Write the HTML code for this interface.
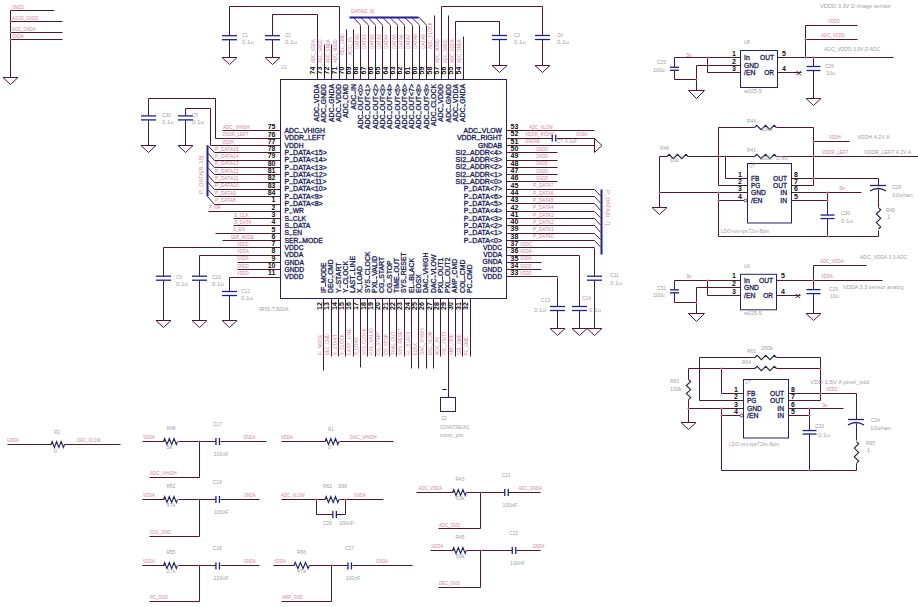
<!DOCTYPE html>
<html><head><meta charset="utf-8"><style>
html,body{margin:0;padding:0;background:#fff;}
svg{display:block;}
text{font-family:"Liberation Sans",sans-serif;}
</style></head><body>
<svg width="918" height="607" viewBox="0 0 918 607">
<rect width="918" height="607" fill="#ffffff"/>
<line x1="10.5" y1="10.5" x2="10.5" y2="77.5" stroke="#4c1a30" stroke-width="1"/>
<line x1="10.5" y1="10.5" x2="54.5" y2="10.5" stroke="#4c1a30" stroke-width="1"/>
<text x="12" y="9" font-size="5.5" fill="#d0869a" text-anchor="start" font-weight="normal" textLength="11.8" lengthAdjust="spacingAndGlyphs">GNDD</text>
<line x1="10.5" y1="21.5" x2="62.5" y2="21.5" stroke="#4c1a30" stroke-width="1"/>
<text x="12" y="20" font-size="5.5" fill="#d0869a" text-anchor="start" font-weight="normal" textLength="26.6" lengthAdjust="spacingAndGlyphs">AGND_GNDD</text>
<line x1="10.5" y1="32.5" x2="62.5" y2="32.5" stroke="#4c1a30" stroke-width="1"/>
<text x="12" y="31" font-size="5.5" fill="#d0869a" text-anchor="start" font-weight="normal" textLength="23.6" lengthAdjust="spacingAndGlyphs">AGC_GNDA</text>
<line x1="10.5" y1="39.5" x2="62.5" y2="39.5" stroke="#4c1a30" stroke-width="1"/>
<text x="12" y="37.5" font-size="5.5" fill="#d0869a" text-anchor="start" font-weight="normal" textLength="11.8" lengthAdjust="spacingAndGlyphs">GNDA</text>
<circle cx="10.5" cy="21.5" r="1.0" fill="#c06090"/>
<circle cx="10.5" cy="32.5" r="1.0" fill="#c06090"/>
<circle cx="10.5" cy="39.5" r="1.0" fill="#c06090"/>
<polygon points="3.0,77.5 18.0,77.5 10.5,84.5" fill="none" stroke="#4c1a30" stroke-width="1"/>
<rect x="280.5" y="79.5" width="226" height="219" fill="none" stroke="#232360" stroke-width="1"/>
<line x1="222.5" y1="130.5" x2="280.5" y2="130.5" stroke="#4c1a30" stroke-width="1"/>
<text x="275.5" y="129.20000000000002" font-size="7" fill="#101010" text-anchor="end" font-weight="bold">75</text>
<text x="284.5" y="133.0" font-size="6.8" fill="#1c1c58" text-anchor="start" font-weight="normal" textLength="40.4" lengthAdjust="spacingAndGlyphs" stroke="#1c1c58" stroke-width="0.3">ADC<tspan fill="transparent" stroke="none">_</tspan>VHIGH</text>
<g><line x1="299.34" y1="132.6" x2="302.79" y2="132.6" stroke="#1c1c58" stroke-width="0.9"/></g>
<text x="223" y="128.9" font-size="5.5" fill="#d0869a" text-anchor="start" font-weight="normal" textLength="26.6" lengthAdjust="spacingAndGlyphs">ADC_VHIGH</text>
<line x1="215.5" y1="138.5" x2="280.5" y2="138.5" stroke="#4c1a30" stroke-width="1"/>
<text x="275.5" y="136.51000000000002" font-size="7" fill="#101010" text-anchor="end" font-weight="bold">76</text>
<text x="284.5" y="140.31" font-size="6.8" fill="#1c1c58" text-anchor="start" font-weight="normal" textLength="40.4" lengthAdjust="spacingAndGlyphs" stroke="#1c1c58" stroke-width="0.3">VDDR<tspan fill="transparent" stroke="none">_</tspan>LEFT</text>
<g><line x1="304.34" y1="139.91" x2="307.80" y2="139.91" stroke="#1c1c58" stroke-width="0.9"/></g>
<text x="222" y="136.21" font-size="5.5" fill="#d0869a" text-anchor="start" font-weight="normal" textLength="26.6" lengthAdjust="spacingAndGlyphs">VDDR_LEFT</text>
<line x1="210.5" y1="145.5" x2="280.5" y2="145.5" stroke="#4c1a30" stroke-width="1"/>
<text x="275.5" y="143.82000000000002" font-size="7" fill="#101010" text-anchor="end" font-weight="bold">77</text>
<text x="284.5" y="147.62" font-size="6.8" fill="#1c1c58" text-anchor="start" font-weight="normal" textLength="19.0" lengthAdjust="spacingAndGlyphs" stroke="#1c1c58" stroke-width="0.3">VDDH</text>
<text x="222" y="143.52" font-size="5.5" fill="#d0869a" text-anchor="start" font-weight="normal" textLength="11.8" lengthAdjust="spacingAndGlyphs">VDDH</text>
<line x1="214.5" y1="152.5" x2="280.5" y2="152.5" stroke="#4c1a30" stroke-width="1"/>
<text x="275.5" y="151.13000000000002" font-size="7" fill="#101010" text-anchor="end" font-weight="bold">78</text>
<text x="284.5" y="154.93" font-size="6.8" fill="#1c1c58" text-anchor="start" font-weight="normal" textLength="42.3" lengthAdjust="spacingAndGlyphs" stroke="#1c1c58" stroke-width="0.3">P<tspan fill="transparent" stroke="none">_</tspan>DATA&lt;15&gt;</text>
<g><line x1="289.38" y1="154.53" x2="292.88" y2="154.53" stroke="#1c1c58" stroke-width="0.9"/></g>
<text x="215" y="150.83" font-size="5.5" fill="#d0869a" text-anchor="start" font-weight="normal" textLength="23.6" lengthAdjust="spacingAndGlyphs">P_DATA15</text>
<line x1="214.5" y1="160.5" x2="280.5" y2="160.5" stroke="#4c1a30" stroke-width="1"/>
<text x="275.5" y="158.44000000000003" font-size="7" fill="#101010" text-anchor="end" font-weight="bold">79</text>
<text x="284.5" y="162.24" font-size="6.8" fill="#1c1c58" text-anchor="start" font-weight="normal" textLength="42.3" lengthAdjust="spacingAndGlyphs" stroke="#1c1c58" stroke-width="0.3">P<tspan fill="transparent" stroke="none">_</tspan>DATA&lt;14&gt;</text>
<g><line x1="289.38" y1="161.84" x2="292.88" y2="161.84" stroke="#1c1c58" stroke-width="0.9"/></g>
<text x="215" y="158.14000000000001" font-size="5.5" fill="#d0869a" text-anchor="start" font-weight="normal" textLength="23.6" lengthAdjust="spacingAndGlyphs">P_DATA14</text>
<line x1="214.5" y1="167.5" x2="280.5" y2="167.5" stroke="#4c1a30" stroke-width="1"/>
<text x="275.5" y="165.75" font-size="7" fill="#101010" text-anchor="end" font-weight="bold">80</text>
<text x="284.5" y="169.54999999999998" font-size="6.8" fill="#1c1c58" text-anchor="start" font-weight="normal" textLength="42.3" lengthAdjust="spacingAndGlyphs" stroke="#1c1c58" stroke-width="0.3">P<tspan fill="transparent" stroke="none">_</tspan>DATA&lt;13&gt;</text>
<g><line x1="289.38" y1="169.14999999999998" x2="292.88" y2="169.14999999999998" stroke="#1c1c58" stroke-width="0.9"/></g>
<text x="215" y="165.45" font-size="5.5" fill="#d0869a" text-anchor="start" font-weight="normal" textLength="23.6" lengthAdjust="spacingAndGlyphs">P_DATA13</text>
<line x1="214.5" y1="174.5" x2="280.5" y2="174.5" stroke="#4c1a30" stroke-width="1"/>
<text x="275.5" y="173.06" font-size="7" fill="#101010" text-anchor="end" font-weight="bold">81</text>
<text x="284.5" y="176.85999999999999" font-size="6.8" fill="#1c1c58" text-anchor="start" font-weight="normal" textLength="42.3" lengthAdjust="spacingAndGlyphs" stroke="#1c1c58" stroke-width="0.3">P<tspan fill="transparent" stroke="none">_</tspan>DATA&lt;12&gt;</text>
<g><line x1="289.38" y1="176.45999999999998" x2="292.88" y2="176.45999999999998" stroke="#1c1c58" stroke-width="0.9"/></g>
<text x="215" y="172.76" font-size="5.5" fill="#d0869a" text-anchor="start" font-weight="normal" textLength="23.6" lengthAdjust="spacingAndGlyphs">P_DATA12</text>
<line x1="214.5" y1="182.5" x2="280.5" y2="182.5" stroke="#4c1a30" stroke-width="1"/>
<text x="275.5" y="180.37" font-size="7" fill="#101010" text-anchor="end" font-weight="bold">82</text>
<text x="284.5" y="184.17" font-size="6.8" fill="#1c1c58" text-anchor="start" font-weight="normal" textLength="41.8" lengthAdjust="spacingAndGlyphs" stroke="#1c1c58" stroke-width="0.3">P<tspan fill="transparent" stroke="none">_</tspan>DATA&lt;11&gt;</text>
<g><line x1="289.39" y1="183.76999999999998" x2="292.90" y2="183.76999999999998" stroke="#1c1c58" stroke-width="0.9"/></g>
<text x="215" y="180.07" font-size="5.5" fill="#d0869a" text-anchor="start" font-weight="normal" textLength="23.6" lengthAdjust="spacingAndGlyphs">P_DATA11</text>
<line x1="214.5" y1="189.5" x2="280.5" y2="189.5" stroke="#4c1a30" stroke-width="1"/>
<text x="275.5" y="187.68" font-size="7" fill="#101010" text-anchor="end" font-weight="bold">83</text>
<text x="284.5" y="191.48" font-size="6.8" fill="#1c1c58" text-anchor="start" font-weight="normal" textLength="42.3" lengthAdjust="spacingAndGlyphs" stroke="#1c1c58" stroke-width="0.3">P<tspan fill="transparent" stroke="none">_</tspan>DATA&lt;10&gt;</text>
<g><line x1="289.38" y1="191.07999999999998" x2="292.88" y2="191.07999999999998" stroke="#1c1c58" stroke-width="0.9"/></g>
<text x="215" y="187.38" font-size="5.5" fill="#d0869a" text-anchor="start" font-weight="normal" textLength="23.6" lengthAdjust="spacingAndGlyphs">P_DATA10</text>
<line x1="214.5" y1="196.5" x2="280.5" y2="196.5" stroke="#4c1a30" stroke-width="1"/>
<text x="275.5" y="194.99" font-size="7" fill="#101010" text-anchor="end" font-weight="bold">84</text>
<text x="284.5" y="198.79" font-size="6.8" fill="#1c1c58" text-anchor="start" font-weight="normal" textLength="38.2" lengthAdjust="spacingAndGlyphs" stroke="#1c1c58" stroke-width="0.3">P<tspan fill="transparent" stroke="none">_</tspan>DATA&lt;9&gt;</text>
<g><line x1="289.37" y1="198.39" x2="292.86" y2="198.39" stroke="#1c1c58" stroke-width="0.9"/></g>
<text x="215" y="194.69" font-size="5.5" fill="#d0869a" text-anchor="start" font-weight="normal" textLength="20.7" lengthAdjust="spacingAndGlyphs">P_DATA9</text>
<line x1="214.5" y1="204.5" x2="280.5" y2="204.5" stroke="#4c1a30" stroke-width="1"/>
<text x="275.5" y="202.3" font-size="7" fill="#101010" text-anchor="end" font-weight="bold">1</text>
<text x="284.5" y="206.1" font-size="6.8" fill="#1c1c58" text-anchor="start" font-weight="normal" textLength="38.2" lengthAdjust="spacingAndGlyphs" stroke="#1c1c58" stroke-width="0.3">P<tspan fill="transparent" stroke="none">_</tspan>DATA&lt;8&gt;</text>
<g><line x1="289.37" y1="205.7" x2="292.86" y2="205.7" stroke="#1c1c58" stroke-width="0.9"/></g>
<text x="215" y="202.0" font-size="5.5" fill="#d0869a" text-anchor="start" font-weight="normal" textLength="20.7" lengthAdjust="spacingAndGlyphs">P_DATA8</text>
<line x1="208.5" y1="211.5" x2="280.5" y2="211.5" stroke="#4c1a30" stroke-width="1"/>
<text x="275.5" y="209.61" font-size="7" fill="#101010" text-anchor="end" font-weight="bold">2</text>
<text x="284.5" y="213.41" font-size="6.8" fill="#1c1c58" text-anchor="start" font-weight="normal" textLength="19.4" lengthAdjust="spacingAndGlyphs" stroke="#1c1c58" stroke-width="0.3">P<tspan fill="transparent" stroke="none">_</tspan>WR</text>
<g><line x1="289.17" y1="213.01" x2="292.50" y2="213.01" stroke="#1c1c58" stroke-width="0.9"/></g>
<text x="209" y="209.31" font-size="5.5" fill="#d0869a" text-anchor="start" font-weight="normal" textLength="11.8" lengthAdjust="spacingAndGlyphs">P_WR</text>
<line x1="233.5" y1="218.5" x2="280.5" y2="218.5" stroke="#4c1a30" stroke-width="1"/>
<text x="275.5" y="216.92000000000002" font-size="7" fill="#101010" text-anchor="end" font-weight="bold">3</text>
<text x="284.5" y="220.72" font-size="6.8" fill="#1c1c58" text-anchor="start" font-weight="normal" textLength="21.7" lengthAdjust="spacingAndGlyphs" stroke="#1c1c58" stroke-width="0.3">S<tspan fill="transparent" stroke="none">_</tspan>CLK</text>
<g><line x1="289.27" y1="220.32" x2="292.69" y2="220.32" stroke="#1c1c58" stroke-width="0.9"/></g>
<text x="234" y="216.62" font-size="5.5" fill="#d0869a" text-anchor="start" font-weight="normal" textLength="14.8" lengthAdjust="spacingAndGlyphs">S_CLK</text>
<line x1="233.5" y1="225.5" x2="280.5" y2="225.5" stroke="#4c1a30" stroke-width="1"/>
<text x="275.5" y="224.23000000000002" font-size="7" fill="#101010" text-anchor="end" font-weight="bold">4</text>
<text x="284.5" y="228.03" font-size="6.8" fill="#1c1c58" text-anchor="start" font-weight="normal" textLength="25.9" lengthAdjust="spacingAndGlyphs" stroke="#1c1c58" stroke-width="0.3">S<tspan fill="transparent" stroke="none">_</tspan>DATA</text>
<g><line x1="289.31" y1="227.63" x2="292.75" y2="227.63" stroke="#1c1c58" stroke-width="0.9"/></g>
<text x="234" y="223.93" font-size="5.5" fill="#d0869a" text-anchor="start" font-weight="normal" textLength="17.7" lengthAdjust="spacingAndGlyphs">S_DATA</text>
<line x1="215.5" y1="233.5" x2="280.5" y2="233.5" stroke="#4c1a30" stroke-width="1"/>
<text x="275.5" y="231.54000000000002" font-size="7" fill="#101010" text-anchor="end" font-weight="bold">5</text>
<text x="284.5" y="235.34" font-size="6.8" fill="#1c1c58" text-anchor="start" font-weight="normal" textLength="17.7" lengthAdjust="spacingAndGlyphs" stroke="#1c1c58" stroke-width="0.3">S<tspan fill="transparent" stroke="none">_</tspan>EN</text>
<g><line x1="289.22" y1="234.94" x2="292.59" y2="234.94" stroke="#1c1c58" stroke-width="0.9"/></g>
<text x="233" y="231.24" font-size="5.5" fill="#d0869a" text-anchor="start" font-weight="normal" textLength="11.8" lengthAdjust="spacingAndGlyphs">S_EN</text>
<line x1="222.5" y1="240.5" x2="280.5" y2="240.5" stroke="#4c1a30" stroke-width="1"/>
<text x="275.5" y="238.85000000000002" font-size="7" fill="#101010" text-anchor="end" font-weight="bold">6</text>
<text x="284.5" y="242.65" font-size="6.8" fill="#1c1c58" text-anchor="start" font-weight="normal" textLength="38.4" lengthAdjust="spacingAndGlyphs" stroke="#1c1c58" stroke-width="0.3">SER<tspan fill="transparent" stroke="none">_</tspan>MODE</text>
<g><line x1="298.78" y1="242.25" x2="302.19" y2="242.25" stroke="#1c1c58" stroke-width="0.9"/></g>
<text x="230.5" y="238.55" font-size="5.5" fill="#d0869a" text-anchor="start" font-weight="normal" textLength="23.6" lengthAdjust="spacingAndGlyphs">SER_MODE</text>
<line x1="163.5" y1="247.5" x2="280.5" y2="247.5" stroke="#4c1a30" stroke-width="1"/>
<text x="275.5" y="246.16000000000003" font-size="7" fill="#101010" text-anchor="end" font-weight="bold">7</text>
<text x="284.5" y="249.96" font-size="6.8" fill="#1c1c58" text-anchor="start" font-weight="normal" textLength="19.0" lengthAdjust="spacingAndGlyphs" stroke="#1c1c58" stroke-width="0.3">VDDC</text>
<text x="237" y="245.86" font-size="5.5" fill="#d0869a" text-anchor="start" font-weight="normal" textLength="11.8" lengthAdjust="spacingAndGlyphs">VDDC</text>
<line x1="199.5" y1="255.5" x2="280.5" y2="255.5" stroke="#4c1a30" stroke-width="1"/>
<text x="275.5" y="253.47000000000003" font-size="7" fill="#101010" text-anchor="end" font-weight="bold">8</text>
<text x="284.5" y="257.27000000000004" font-size="6.8" fill="#1c1c58" text-anchor="start" font-weight="normal" textLength="18.7" lengthAdjust="spacingAndGlyphs" stroke="#1c1c58" stroke-width="0.3">VDDA</text>
<text x="237" y="253.17000000000002" font-size="5.5" fill="#d0869a" text-anchor="start" font-weight="normal" textLength="11.8" lengthAdjust="spacingAndGlyphs">VDDA</text>
<line x1="237.5" y1="262.5" x2="280.5" y2="262.5" stroke="#4c1a30" stroke-width="1"/>
<text x="275.5" y="260.78000000000003" font-size="7" fill="#101010" text-anchor="end" font-weight="bold">9</text>
<text x="284.5" y="264.58000000000004" font-size="6.8" fill="#1c1c58" text-anchor="start" font-weight="normal" textLength="19.4" lengthAdjust="spacingAndGlyphs" stroke="#1c1c58" stroke-width="0.3">GNDA</text>
<text x="237" y="260.48" font-size="5.5" fill="#d0869a" text-anchor="start" font-weight="normal" textLength="11.8" lengthAdjust="spacingAndGlyphs">GNDA</text>
<line x1="237.5" y1="269.5" x2="280.5" y2="269.5" stroke="#4c1a30" stroke-width="1"/>
<text x="275.5" y="268.09" font-size="7" fill="#101010" text-anchor="end" font-weight="bold">10</text>
<text x="284.5" y="271.89" font-size="6.8" fill="#1c1c58" text-anchor="start" font-weight="normal" textLength="19.7" lengthAdjust="spacingAndGlyphs" stroke="#1c1c58" stroke-width="0.3">GNDD</text>
<text x="237" y="267.78999999999996" font-size="5.5" fill="#d0869a" text-anchor="start" font-weight="normal" textLength="11.8" lengthAdjust="spacingAndGlyphs">GNDD</text>
<line x1="229.5" y1="277.5" x2="280.5" y2="277.5" stroke="#4c1a30" stroke-width="1"/>
<text x="275.5" y="275.40000000000003" font-size="7" fill="#101010" text-anchor="end" font-weight="bold">11</text>
<text x="284.5" y="279.20000000000005" font-size="6.8" fill="#1c1c58" text-anchor="start" font-weight="normal" textLength="19.0" lengthAdjust="spacingAndGlyphs" stroke="#1c1c58" stroke-width="0.3">VDDD</text>
<text x="237" y="275.1" font-size="5.5" fill="#d0869a" text-anchor="start" font-weight="normal" textLength="11.8" lengthAdjust="spacingAndGlyphs">VDDD</text>
<polyline points="148.5,145.5 148.5,98.5 215.5,98.5 215.5,138.5" fill="none" stroke="#4c1a30" stroke-width="1"/>
<polyline points="185.5,145.5 185.5,108.5 210.5,108.5 210.5,145.5" fill="none" stroke="#4c1a30" stroke-width="1"/>
<rect x="147" y="115.9" width="3" height="4" fill="#fff"/>
<line x1="141.0" y1="115.9" x2="156.0" y2="115.9" stroke="#1e2284" stroke-width="1.3"/>
<line x1="141.0" y1="119.9" x2="156.0" y2="119.9" stroke="#1e2284" stroke-width="1.3"/>
<rect x="184" y="115.9" width="3" height="4" fill="#fff"/>
<line x1="178.0" y1="115.9" x2="193.0" y2="115.9" stroke="#1e2284" stroke-width="1.3"/>
<line x1="178.0" y1="119.9" x2="193.0" y2="119.9" stroke="#1e2284" stroke-width="1.3"/>
<polygon points="141.0,145.5 156.0,145.5 148.5,152.5" fill="none" stroke="#4c1a30" stroke-width="1"/>
<polygon points="178.0,145.5 193.0,145.5 185.5,152.5" fill="none" stroke="#4c1a30" stroke-width="1"/>
<text x="162" y="117" font-size="5.5" fill="#a0a0a8" text-anchor="start" font-weight="normal" textLength="8.9" lengthAdjust="spacingAndGlyphs">C30</text>
<text x="162" y="124" font-size="5.5" fill="#a0a0a8" text-anchor="start" font-weight="normal" textLength="11.8" lengthAdjust="spacingAndGlyphs">0.1u</text>
<text x="192" y="117" font-size="5.5" fill="#a0a0a8" text-anchor="start" font-weight="normal" textLength="5.9" lengthAdjust="spacingAndGlyphs">C5</text>
<text x="192" y="124" font-size="5.5" fill="#a0a0a8" text-anchor="start" font-weight="normal" textLength="11.8" lengthAdjust="spacingAndGlyphs">0.1u</text>
<line x1="207.5" y1="145.5" x2="207.5" y2="196.5" stroke="#2020a0" stroke-width="2"/>
<line x1="207.5" y1="145.33" x2="214.5" y2="152.5" stroke="#4c1a30" stroke-width="1"/>
<line x1="207.5" y1="152.64000000000001" x2="214.5" y2="160.5" stroke="#4c1a30" stroke-width="1"/>
<line x1="207.5" y1="159.95" x2="214.5" y2="167.5" stroke="#4c1a30" stroke-width="1"/>
<line x1="207.5" y1="167.26" x2="214.5" y2="174.5" stroke="#4c1a30" stroke-width="1"/>
<line x1="207.5" y1="174.57" x2="214.5" y2="182.5" stroke="#4c1a30" stroke-width="1"/>
<line x1="207.5" y1="181.88" x2="214.5" y2="189.5" stroke="#4c1a30" stroke-width="1"/>
<line x1="207.5" y1="189.19" x2="214.5" y2="196.5" stroke="#4c1a30" stroke-width="1"/>
<line x1="207.5" y1="196.5" x2="214.5" y2="204.5" stroke="#4c1a30" stroke-width="1"/>
<text x="203" y="194" font-size="5.5" fill="#d0869a" text-anchor="start" font-weight="normal" textLength="38.4" lengthAdjust="spacingAndGlyphs" transform="rotate(-90 203 194)">P_DATA[8..15]</text>
<polyline points="163.5,320.5 163.5,247.5" fill="none" stroke="#4c1a30" stroke-width="1"/>
<rect x="162" y="276.2" width="3" height="4" fill="#fff"/>
<line x1="156.0" y1="276.2" x2="171.0" y2="276.2" stroke="#1e2284" stroke-width="1.3"/>
<line x1="156.0" y1="280.2" x2="171.0" y2="280.2" stroke="#1e2284" stroke-width="1.3"/>
<polygon points="156.0,320.5 171.0,320.5 163.5,327.5" fill="none" stroke="#4c1a30" stroke-width="1"/>
<polyline points="199.5,320.5 199.5,255.5" fill="none" stroke="#4c1a30" stroke-width="1"/>
<rect x="198" y="276.2" width="3" height="4" fill="#fff"/>
<line x1="192.0" y1="276.2" x2="207.0" y2="276.2" stroke="#1e2284" stroke-width="1.3"/>
<line x1="192.0" y1="280.2" x2="207.0" y2="280.2" stroke="#1e2284" stroke-width="1.3"/>
<polygon points="192.0,320.5 207.0,320.5 199.5,327.5" fill="none" stroke="#4c1a30" stroke-width="1"/>
<polyline points="229.5,320.5 229.5,277.5" fill="none" stroke="#4c1a30" stroke-width="1"/>
<rect x="228" y="291.5" width="3" height="4" fill="#fff"/>
<line x1="222.0" y1="291.5" x2="237.0" y2="291.5" stroke="#1e2284" stroke-width="1.3"/>
<line x1="222.0" y1="295.5" x2="237.0" y2="295.5" stroke="#1e2284" stroke-width="1.3"/>
<polygon points="222.0,320.5 237.0,320.5 229.5,327.5" fill="none" stroke="#4c1a30" stroke-width="1"/>
<text x="176" y="279" font-size="5.5" fill="#a0a0a8" text-anchor="start" font-weight="normal" textLength="5.9" lengthAdjust="spacingAndGlyphs">C9</text>
<text x="176" y="286" font-size="5.5" fill="#a0a0a8" text-anchor="start" font-weight="normal" textLength="11.8" lengthAdjust="spacingAndGlyphs">0.1u</text>
<text x="212" y="279" font-size="5.5" fill="#a0a0a8" text-anchor="start" font-weight="normal" textLength="8.9" lengthAdjust="spacingAndGlyphs">C10</text>
<text x="212" y="286" font-size="5.5" fill="#a0a0a8" text-anchor="start" font-weight="normal" textLength="11.8" lengthAdjust="spacingAndGlyphs">0.1u</text>
<text x="241" y="293" font-size="5.5" fill="#a0a0a8" text-anchor="start" font-weight="normal" textLength="8.9" lengthAdjust="spacingAndGlyphs">C12</text>
<text x="241" y="300" font-size="5.5" fill="#a0a0a8" text-anchor="start" font-weight="normal" textLength="11.8" lengthAdjust="spacingAndGlyphs">0.1u</text>
<text x="259" y="311" font-size="5.5" fill="#a0a0a8" text-anchor="start" font-weight="normal" textLength="29.5" lengthAdjust="spacingAndGlyphs">IRIS-T300A</text>
<line x1="506.5" y1="130.5" x2="594.5" y2="130.5" stroke="#4c1a30" stroke-width="1"/>
<text x="510.5" y="129.10000000000002" font-size="7" fill="#101010" text-anchor="start" font-weight="bold">53</text>
<text x="502" y="132.9" font-size="6.8" fill="#1c1c58" text-anchor="end" font-weight="normal" textLength="38.4" lengthAdjust="spacingAndGlyphs" stroke="#1c1c58" stroke-width="0.3">ADC<tspan fill="transparent" stroke="none">_</tspan>VLOW</text>
<g><line x1="478.22" y1="132.5" x2="481.63" y2="132.5" stroke="#1c1c58" stroke-width="0.9"/></g>
<line x1="506.5" y1="138.5" x2="552.5" y2="138.5" stroke="#4c1a30" stroke-width="1"/>
<text x="510.5" y="136.41000000000003" font-size="7" fill="#101010" text-anchor="start" font-weight="bold">52</text>
<text x="502" y="140.21" font-size="6.8" fill="#1c1c58" text-anchor="end" font-weight="normal" textLength="45.1" lengthAdjust="spacingAndGlyphs" stroke="#1c1c58" stroke-width="0.3">VDDR<tspan fill="transparent" stroke="none">_</tspan>RIGHT</text>
<g><line x1="476.75" y1="139.81" x2="480.21" y2="139.81" stroke="#1c1c58" stroke-width="0.9"/></g>
<line x1="506.5" y1="145.5" x2="594.5" y2="145.5" stroke="#4c1a30" stroke-width="1"/>
<text x="510.5" y="143.72000000000003" font-size="7" fill="#101010" text-anchor="start" font-weight="bold">51</text>
<text x="502" y="147.52" font-size="6.8" fill="#1c1c58" text-anchor="end" font-weight="normal" textLength="24.1" lengthAdjust="spacingAndGlyphs" stroke="#1c1c58" stroke-width="0.3">GNDAB</text>
<line x1="506.5" y1="152.5" x2="557.5" y2="152.5" stroke="#4c1a30" stroke-width="1"/>
<text x="510.5" y="151.03000000000003" font-size="7" fill="#101010" text-anchor="start" font-weight="bold">50</text>
<text x="502" y="154.83" font-size="6.8" fill="#1c1c58" text-anchor="end" font-weight="normal" textLength="46.5" lengthAdjust="spacingAndGlyphs" stroke="#1c1c58" stroke-width="0.3">SI2<tspan fill="transparent" stroke="none">_</tspan>ADDR&lt;4&gt;</text>
<g><line x1="466.26" y1="154.43" x2="469.77" y2="154.43" stroke="#1c1c58" stroke-width="0.9"/></g>
<line x1="506.5" y1="160.5" x2="557.5" y2="160.5" stroke="#4c1a30" stroke-width="1"/>
<text x="510.5" y="158.34000000000003" font-size="7" fill="#101010" text-anchor="start" font-weight="bold">49</text>
<text x="502" y="162.14000000000001" font-size="6.8" fill="#1c1c58" text-anchor="end" font-weight="normal" textLength="46.5" lengthAdjust="spacingAndGlyphs" stroke="#1c1c58" stroke-width="0.3">SI2<tspan fill="transparent" stroke="none">_</tspan>ADDR&lt;3&gt;</text>
<g><line x1="466.26" y1="161.74" x2="469.77" y2="161.74" stroke="#1c1c58" stroke-width="0.9"/></g>
<line x1="506.5" y1="167.5" x2="557.5" y2="167.5" stroke="#4c1a30" stroke-width="1"/>
<text x="510.5" y="165.65000000000003" font-size="7" fill="#101010" text-anchor="start" font-weight="bold">48</text>
<text x="502" y="169.45000000000002" font-size="6.8" fill="#1c1c58" text-anchor="end" font-weight="normal" textLength="46.5" lengthAdjust="spacingAndGlyphs" stroke="#1c1c58" stroke-width="0.3">SI2<tspan fill="transparent" stroke="none">_</tspan>ADDR&lt;2&gt;</text>
<g><line x1="466.26" y1="169.05" x2="469.77" y2="169.05" stroke="#1c1c58" stroke-width="0.9"/></g>
<line x1="506.5" y1="174.5" x2="557.5" y2="174.5" stroke="#4c1a30" stroke-width="1"/>
<text x="510.5" y="172.96000000000004" font-size="7" fill="#101010" text-anchor="start" font-weight="bold">47</text>
<text x="502" y="176.76000000000002" font-size="6.8" fill="#1c1c58" text-anchor="end" font-weight="normal" textLength="46.5" lengthAdjust="spacingAndGlyphs" stroke="#1c1c58" stroke-width="0.3">SI2<tspan fill="transparent" stroke="none">_</tspan>ADDR&lt;1&gt;</text>
<g><line x1="466.26" y1="176.36" x2="469.77" y2="176.36" stroke="#1c1c58" stroke-width="0.9"/></g>
<line x1="506.5" y1="181.5" x2="557.5" y2="181.5" stroke="#4c1a30" stroke-width="1"/>
<text x="510.5" y="180.27" font-size="7" fill="#101010" text-anchor="start" font-weight="bold">46</text>
<text x="502" y="184.07" font-size="6.8" fill="#1c1c58" text-anchor="end" font-weight="normal" textLength="46.5" lengthAdjust="spacingAndGlyphs" stroke="#1c1c58" stroke-width="0.3">SI2<tspan fill="transparent" stroke="none">_</tspan>ADDR&lt;0&gt;</text>
<g><line x1="466.26" y1="183.67" x2="469.77" y2="183.67" stroke="#1c1c58" stroke-width="0.9"/></g>
<line x1="506.5" y1="189.5" x2="594.5" y2="189.5" stroke="#4c1a30" stroke-width="1"/>
<text x="510.5" y="187.58" font-size="7" fill="#101010" text-anchor="start" font-weight="bold">45</text>
<text x="502" y="191.38" font-size="6.8" fill="#1c1c58" text-anchor="end" font-weight="normal" textLength="38.2" lengthAdjust="spacingAndGlyphs" stroke="#1c1c58" stroke-width="0.3">P<tspan fill="transparent" stroke="none">_</tspan>DATA&lt;7&gt;</text>
<g><line x1="468.63" y1="190.98" x2="472.12" y2="190.98" stroke="#1c1c58" stroke-width="0.9"/></g>
<line x1="506.5" y1="196.5" x2="594.5" y2="196.5" stroke="#4c1a30" stroke-width="1"/>
<text x="510.5" y="194.89000000000001" font-size="7" fill="#101010" text-anchor="start" font-weight="bold">44</text>
<text x="502" y="198.69" font-size="6.8" fill="#1c1c58" text-anchor="end" font-weight="normal" textLength="38.2" lengthAdjust="spacingAndGlyphs" stroke="#1c1c58" stroke-width="0.3">P<tspan fill="transparent" stroke="none">_</tspan>DATA&lt;6&gt;</text>
<g><line x1="468.63" y1="198.29" x2="472.12" y2="198.29" stroke="#1c1c58" stroke-width="0.9"/></g>
<line x1="506.5" y1="203.5" x2="594.5" y2="203.5" stroke="#4c1a30" stroke-width="1"/>
<text x="510.5" y="202.20000000000002" font-size="7" fill="#101010" text-anchor="start" font-weight="bold">43</text>
<text x="502" y="206.0" font-size="6.8" fill="#1c1c58" text-anchor="end" font-weight="normal" textLength="38.2" lengthAdjust="spacingAndGlyphs" stroke="#1c1c58" stroke-width="0.3">P<tspan fill="transparent" stroke="none">_</tspan>DATA&lt;5&gt;</text>
<g><line x1="468.63" y1="205.6" x2="472.12" y2="205.6" stroke="#1c1c58" stroke-width="0.9"/></g>
<line x1="506.5" y1="211.5" x2="594.5" y2="211.5" stroke="#4c1a30" stroke-width="1"/>
<text x="510.5" y="209.51000000000002" font-size="7" fill="#101010" text-anchor="start" font-weight="bold">42</text>
<text x="502" y="213.31" font-size="6.8" fill="#1c1c58" text-anchor="end" font-weight="normal" textLength="38.2" lengthAdjust="spacingAndGlyphs" stroke="#1c1c58" stroke-width="0.3">P<tspan fill="transparent" stroke="none">_</tspan>DATA&lt;4&gt;</text>
<g><line x1="468.63" y1="212.91" x2="472.12" y2="212.91" stroke="#1c1c58" stroke-width="0.9"/></g>
<line x1="506.5" y1="218.5" x2="594.5" y2="218.5" stroke="#4c1a30" stroke-width="1"/>
<text x="510.5" y="216.82000000000002" font-size="7" fill="#101010" text-anchor="start" font-weight="bold">41</text>
<text x="502" y="220.62" font-size="6.8" fill="#1c1c58" text-anchor="end" font-weight="normal" textLength="38.2" lengthAdjust="spacingAndGlyphs" stroke="#1c1c58" stroke-width="0.3">P<tspan fill="transparent" stroke="none">_</tspan>DATA&lt;3&gt;</text>
<g><line x1="468.63" y1="220.22" x2="472.12" y2="220.22" stroke="#1c1c58" stroke-width="0.9"/></g>
<line x1="506.5" y1="225.5" x2="594.5" y2="225.5" stroke="#4c1a30" stroke-width="1"/>
<text x="510.5" y="224.13000000000002" font-size="7" fill="#101010" text-anchor="start" font-weight="bold">40</text>
<text x="502" y="227.93" font-size="6.8" fill="#1c1c58" text-anchor="end" font-weight="normal" textLength="38.2" lengthAdjust="spacingAndGlyphs" stroke="#1c1c58" stroke-width="0.3">P<tspan fill="transparent" stroke="none">_</tspan>DATA&lt;2&gt;</text>
<g><line x1="468.63" y1="227.53" x2="472.12" y2="227.53" stroke="#1c1c58" stroke-width="0.9"/></g>
<line x1="506.5" y1="233.5" x2="594.5" y2="233.5" stroke="#4c1a30" stroke-width="1"/>
<text x="510.5" y="231.44" font-size="7" fill="#101010" text-anchor="start" font-weight="bold">39</text>
<text x="502" y="235.23999999999998" font-size="6.8" fill="#1c1c58" text-anchor="end" font-weight="normal" textLength="38.2" lengthAdjust="spacingAndGlyphs" stroke="#1c1c58" stroke-width="0.3">P<tspan fill="transparent" stroke="none">_</tspan>DATA&lt;1&gt;</text>
<g><line x1="468.63" y1="234.83999999999997" x2="472.12" y2="234.83999999999997" stroke="#1c1c58" stroke-width="0.9"/></g>
<line x1="506.5" y1="240.5" x2="594.5" y2="240.5" stroke="#4c1a30" stroke-width="1"/>
<text x="510.5" y="238.75" font-size="7" fill="#101010" text-anchor="start" font-weight="bold">38</text>
<text x="502" y="242.54999999999998" font-size="6.8" fill="#1c1c58" text-anchor="end" font-weight="normal" textLength="38.2" lengthAdjust="spacingAndGlyphs" stroke="#1c1c58" stroke-width="0.3">P<tspan fill="transparent" stroke="none">_</tspan>DATA&lt;0&gt;</text>
<g><line x1="468.63" y1="242.14999999999998" x2="472.12" y2="242.14999999999998" stroke="#1c1c58" stroke-width="0.9"/></g>
<line x1="506.5" y1="247.5" x2="594.5" y2="247.5" stroke="#4c1a30" stroke-width="1"/>
<text x="510.5" y="246.06" font-size="7" fill="#101010" text-anchor="start" font-weight="bold">37</text>
<text x="502" y="249.85999999999999" font-size="6.8" fill="#1c1c58" text-anchor="end" font-weight="normal" textLength="19.0" lengthAdjust="spacingAndGlyphs" stroke="#1c1c58" stroke-width="0.3">VDDC</text>
<line x1="506.5" y1="255.5" x2="579.5" y2="255.5" stroke="#4c1a30" stroke-width="1"/>
<text x="510.5" y="253.37" font-size="7" fill="#101010" text-anchor="start" font-weight="bold">36</text>
<text x="502" y="257.17" font-size="6.8" fill="#1c1c58" text-anchor="end" font-weight="normal" textLength="18.7" lengthAdjust="spacingAndGlyphs" stroke="#1c1c58" stroke-width="0.3">VDDA</text>
<line x1="506.5" y1="262.5" x2="541.5" y2="262.5" stroke="#4c1a30" stroke-width="1"/>
<text x="510.5" y="260.68" font-size="7" fill="#101010" text-anchor="start" font-weight="bold">35</text>
<text x="502" y="264.48" font-size="6.8" fill="#1c1c58" text-anchor="end" font-weight="normal" textLength="19.4" lengthAdjust="spacingAndGlyphs" stroke="#1c1c58" stroke-width="0.3">GNDA</text>
<line x1="506.5" y1="269.5" x2="541.5" y2="269.5" stroke="#4c1a30" stroke-width="1"/>
<text x="510.5" y="267.99" font-size="7" fill="#101010" text-anchor="start" font-weight="bold">34</text>
<text x="502" y="271.79" font-size="6.8" fill="#1c1c58" text-anchor="end" font-weight="normal" textLength="19.7" lengthAdjust="spacingAndGlyphs" stroke="#1c1c58" stroke-width="0.3">GNDD</text>
<line x1="506.5" y1="276.5" x2="557.5" y2="276.5" stroke="#4c1a30" stroke-width="1"/>
<text x="510.5" y="275.3" font-size="7" fill="#101010" text-anchor="start" font-weight="bold">33</text>
<text x="502" y="279.1" font-size="6.8" fill="#1c1c58" text-anchor="end" font-weight="normal" textLength="19.0" lengthAdjust="spacingAndGlyphs" stroke="#1c1c58" stroke-width="0.3">VDDD</text>
<text x="529" y="128.8" font-size="5.5" fill="#d0869a" text-anchor="start" font-weight="normal" textLength="23.6" lengthAdjust="spacingAndGlyphs">ADC_VLOW</text>
<text x="525" y="136.11" font-size="5.5" fill="#d0869a" text-anchor="start" font-weight="normal" textLength="29.5" lengthAdjust="spacingAndGlyphs">VDDR_RIGHT</text>
<text x="525" y="143.42000000000002" font-size="5.5" fill="#d0869a" text-anchor="start" font-weight="normal" textLength="14.8" lengthAdjust="spacingAndGlyphs">GNDAB</text>
<text x="536" y="150.73000000000002" font-size="5.5" fill="#d0869a" text-anchor="start" font-weight="normal" textLength="11.8" lengthAdjust="spacingAndGlyphs">GNDD</text>
<text x="536" y="158.04000000000002" font-size="5.5" fill="#d0869a" text-anchor="start" font-weight="normal" textLength="11.8" lengthAdjust="spacingAndGlyphs">GNDD</text>
<text x="536" y="165.35000000000002" font-size="5.5" fill="#d0869a" text-anchor="start" font-weight="normal" textLength="11.8" lengthAdjust="spacingAndGlyphs">GNDD</text>
<text x="536" y="172.66000000000003" font-size="5.5" fill="#d0869a" text-anchor="start" font-weight="normal" textLength="11.8" lengthAdjust="spacingAndGlyphs">GNDD</text>
<text x="536" y="179.97" font-size="5.5" fill="#d0869a" text-anchor="start" font-weight="normal" textLength="11.8" lengthAdjust="spacingAndGlyphs">GNDD</text>
<text x="533" y="187.28" font-size="5.5" fill="#d0869a" text-anchor="start" font-weight="normal" textLength="20.7" lengthAdjust="spacingAndGlyphs">P_DATA7</text>
<text x="533" y="194.59" font-size="5.5" fill="#d0869a" text-anchor="start" font-weight="normal" textLength="20.7" lengthAdjust="spacingAndGlyphs">P_DATA6</text>
<text x="533" y="201.9" font-size="5.5" fill="#d0869a" text-anchor="start" font-weight="normal" textLength="20.7" lengthAdjust="spacingAndGlyphs">P_DATA5</text>
<text x="533" y="209.21" font-size="5.5" fill="#d0869a" text-anchor="start" font-weight="normal" textLength="20.7" lengthAdjust="spacingAndGlyphs">P_DATA4</text>
<text x="533" y="216.52" font-size="5.5" fill="#d0869a" text-anchor="start" font-weight="normal" textLength="20.7" lengthAdjust="spacingAndGlyphs">P_DATA3</text>
<text x="533" y="223.83" font-size="5.5" fill="#d0869a" text-anchor="start" font-weight="normal" textLength="20.7" lengthAdjust="spacingAndGlyphs">P_DATA2</text>
<text x="533" y="231.14" font-size="5.5" fill="#d0869a" text-anchor="start" font-weight="normal" textLength="20.7" lengthAdjust="spacingAndGlyphs">P_DATA1</text>
<text x="533" y="238.45" font-size="5.5" fill="#d0869a" text-anchor="start" font-weight="normal" textLength="20.7" lengthAdjust="spacingAndGlyphs">P_DATA0</text>
<text x="520" y="245.76" font-size="5.5" fill="#d0869a" text-anchor="start" font-weight="normal" textLength="11.8" lengthAdjust="spacingAndGlyphs">VDDC</text>
<text x="520" y="253.07" font-size="5.5" fill="#d0869a" text-anchor="start" font-weight="normal" textLength="11.8" lengthAdjust="spacingAndGlyphs">VDDA</text>
<text x="520" y="260.38" font-size="5.5" fill="#d0869a" text-anchor="start" font-weight="normal" textLength="11.8" lengthAdjust="spacingAndGlyphs">GNDA</text>
<text x="520" y="267.69" font-size="5.5" fill="#d0869a" text-anchor="start" font-weight="normal" textLength="11.8" lengthAdjust="spacingAndGlyphs">GNDD</text>
<text x="520" y="275.0" font-size="5.5" fill="#d0869a" text-anchor="start" font-weight="normal" textLength="11.8" lengthAdjust="spacingAndGlyphs">VDDD</text>
<text x="576" y="135.61" font-size="5.5" fill="#d0869a" text-anchor="start" font-weight="normal" textLength="11.8" lengthAdjust="spacingAndGlyphs">GNDA</text>
<rect x="552.25" y="136.61" width="3.5" height="3" fill="#fff"/>
<line x1="552.25" y1="134.61" x2="552.25" y2="141.61" stroke="#1e2284" stroke-width="1.3"/>
<line x1="555.75" y1="134.61" x2="555.75" y2="141.61" stroke="#1e2284" stroke-width="1.3"/>
<line x1="556.5" y1="138.5" x2="594.5" y2="138.5" stroke="#4c1a30" stroke-width="1"/>
<text x="557" y="143" font-size="5.5" fill="#a0a0a8" text-anchor="start" font-weight="normal" textLength="5.9" lengthAdjust="spacingAndGlyphs">C7</text>
<text x="565" y="143" font-size="5.5" fill="#a0a0a8" text-anchor="start" font-weight="normal" textLength="12.0" lengthAdjust="spacingAndGlyphs">0.1uF</text>
<line x1="594.5" y1="138.5" x2="594.5" y2="152.5" stroke="#4c1a30" stroke-width="1"/>
<line x1="594.5" y1="138.5" x2="602" y2="145.5" stroke="#4c1a30" stroke-width="1"/>
<line x1="594.5" y1="152.5" x2="602" y2="145.5" stroke="#4c1a30" stroke-width="1"/>
<line x1="601.5" y1="189.5" x2="601.5" y2="254.5" stroke="#2020a0" stroke-width="2"/>
<line x1="594.5" y1="189.5" x2="600.5" y2="195.78" stroke="#4c1a30" stroke-width="1"/>
<line x1="594.5" y1="196.5" x2="600.5" y2="203.09" stroke="#4c1a30" stroke-width="1"/>
<line x1="594.5" y1="203.5" x2="600.5" y2="210.4" stroke="#4c1a30" stroke-width="1"/>
<line x1="594.5" y1="211.5" x2="600.5" y2="217.71" stroke="#4c1a30" stroke-width="1"/>
<line x1="594.5" y1="218.5" x2="600.5" y2="225.02" stroke="#4c1a30" stroke-width="1"/>
<line x1="594.5" y1="225.5" x2="600.5" y2="232.33" stroke="#4c1a30" stroke-width="1"/>
<line x1="594.5" y1="233.5" x2="600.5" y2="239.64" stroke="#4c1a30" stroke-width="1"/>
<line x1="594.5" y1="240.5" x2="600.5" y2="246.95" stroke="#4c1a30" stroke-width="1"/>
<text x="606" y="190" font-size="5.5" fill="#d0869a" text-anchor="start" font-weight="normal" textLength="35.4" lengthAdjust="spacingAndGlyphs" transform="rotate(90 606 190)">P_DATA[0..7]</text>
<polyline points="594.5,248.5 594.5,328.5" fill="none" stroke="#4c1a30" stroke-width="1"/>
<rect x="593" y="276.2" width="3" height="4" fill="#fff"/>
<line x1="587.0" y1="276.2" x2="602.0" y2="276.2" stroke="#1e2284" stroke-width="1.3"/>
<line x1="587.0" y1="280.2" x2="602.0" y2="280.2" stroke="#1e2284" stroke-width="1.3"/>
<polygon points="587.0,328.5 602.0,328.5 594.5,335.5" fill="none" stroke="#4c1a30" stroke-width="1"/>
<polyline points="579.5,255.5 579.5,328.5" fill="none" stroke="#4c1a30" stroke-width="1"/>
<rect x="578" y="306.5" width="3" height="4" fill="#fff"/>
<line x1="572.0" y1="306.5" x2="587.0" y2="306.5" stroke="#1e2284" stroke-width="1.3"/>
<line x1="572.0" y1="310.5" x2="587.0" y2="310.5" stroke="#1e2284" stroke-width="1.3"/>
<polygon points="572.0,328.5 587.0,328.5 579.5,335.5" fill="none" stroke="#4c1a30" stroke-width="1"/>
<polyline points="557.5,277.5 557.5,328.5" fill="none" stroke="#4c1a30" stroke-width="1"/>
<rect x="556" y="306.5" width="3" height="4" fill="#fff"/>
<line x1="550.0" y1="306.5" x2="565.0" y2="306.5" stroke="#1e2284" stroke-width="1.3"/>
<line x1="550.0" y1="310.5" x2="565.0" y2="310.5" stroke="#1e2284" stroke-width="1.3"/>
<polygon points="550.0,328.5 565.0,328.5 557.5,335.5" fill="none" stroke="#4c1a30" stroke-width="1"/>
<text x="610" y="277" font-size="5.5" fill="#a0a0a8" text-anchor="start" font-weight="normal" textLength="8.9" lengthAdjust="spacingAndGlyphs">C11</text>
<text x="610" y="285" font-size="5.5" fill="#a0a0a8" text-anchor="start" font-weight="normal" textLength="11.8" lengthAdjust="spacingAndGlyphs">0.1u</text>
<text x="582" y="300" font-size="5.5" fill="#a0a0a8" text-anchor="start" font-weight="normal" textLength="8.9" lengthAdjust="spacingAndGlyphs">C14</text>
<text x="589" y="312" font-size="5.5" fill="#a0a0a8" text-anchor="start" font-weight="normal" textLength="11.8" lengthAdjust="spacingAndGlyphs">0.1u</text>
<text x="541" y="302" font-size="5.5" fill="#a0a0a8" text-anchor="start" font-weight="normal" textLength="8.9" lengthAdjust="spacingAndGlyphs">C13</text>
<text x="534" y="312" font-size="5.5" fill="#a0a0a8" text-anchor="start" font-weight="normal" textLength="11.8" lengthAdjust="spacingAndGlyphs">0.1u</text>
<line x1="317.5" y1="79.5" x2="317.5" y2="14.5" stroke="#4c1a30" stroke-width="1"/>
<text x="314.6" y="74.5" font-size="7" fill="#101010" text-anchor="start" font-weight="bold" transform="rotate(-90 314.6 74.5)">74</text>
<text x="319.1" y="84" font-size="6.8" fill="#1c1c58" text-anchor="end" font-weight="normal" textLength="37.4" lengthAdjust="spacingAndGlyphs" stroke="#1c1c58" stroke-width="0.3" transform="rotate(-90 319.1 84)">ADC<tspan fill="transparent" stroke="none">_</tspan>VDDA</text>
<g transform="rotate(-90 319.1 84)"><line x1="296.38" y1="83.6" x2="299.80" y2="83.6" stroke="#1c1c58" stroke-width="0.9"/></g>
<text x="315.1" y="63" font-size="5.5" fill="#d0869a" text-anchor="start" font-weight="normal" textLength="23.6" lengthAdjust="spacingAndGlyphs" transform="rotate(-90 315.1 63)">ADC_VDDA</text>
<line x1="324.5" y1="79.5" x2="324.5" y2="44.5" stroke="#4c1a30" stroke-width="1"/>
<text x="321.91" y="74.5" font-size="7" fill="#101010" text-anchor="start" font-weight="bold" transform="rotate(-90 321.91 74.5)">73</text>
<text x="326.41" y="84" font-size="6.8" fill="#1c1c58" text-anchor="end" font-weight="normal" textLength="38.4" lengthAdjust="spacingAndGlyphs" stroke="#1c1c58" stroke-width="0.3" transform="rotate(-90 326.41 84)">ADC<tspan fill="transparent" stroke="none">_</tspan>GNDD</text>
<g transform="rotate(-90 326.41 84)"><line x1="302.64" y1="83.6" x2="306.05" y2="83.6" stroke="#1c1c58" stroke-width="0.9"/></g>
<text x="322.41" y="63" font-size="5.5" fill="#d0869a" text-anchor="start" font-weight="normal" textLength="23.6" lengthAdjust="spacingAndGlyphs" transform="rotate(-90 322.41 63)">ADC_GNDD</text>
<line x1="331.5" y1="79.5" x2="331.5" y2="44.5" stroke="#4c1a30" stroke-width="1"/>
<text x="329.22" y="74.5" font-size="7" fill="#101010" text-anchor="start" font-weight="bold" transform="rotate(-90 329.22 74.5)">72</text>
<text x="333.72" y="84" font-size="6.8" fill="#1c1c58" text-anchor="end" font-weight="normal" textLength="38.1" lengthAdjust="spacingAndGlyphs" stroke="#1c1c58" stroke-width="0.3" transform="rotate(-90 333.72 84)">ADC<tspan fill="transparent" stroke="none">_</tspan>GNDA</text>
<g transform="rotate(-90 333.72 84)"><line x1="310.30" y1="83.6" x2="313.71" y2="83.6" stroke="#1c1c58" stroke-width="0.9"/></g>
<text x="329.72" y="63" font-size="5.5" fill="#d0869a" text-anchor="start" font-weight="normal" textLength="23.6" lengthAdjust="spacingAndGlyphs" transform="rotate(-90 329.72 63)">ADC_GNDA</text>
<line x1="339.5" y1="79.5" x2="339.5" y2="6.5" stroke="#4c1a30" stroke-width="1"/>
<text x="336.53000000000003" y="74.5" font-size="7" fill="#101010" text-anchor="start" font-weight="bold" transform="rotate(-90 336.53000000000003 74.5)">71</text>
<text x="341.03000000000003" y="84" font-size="6.8" fill="#1c1c58" text-anchor="end" font-weight="normal" textLength="37.8" lengthAdjust="spacingAndGlyphs" stroke="#1c1c58" stroke-width="0.3" transform="rotate(-90 341.03000000000003 84)">ADC<tspan fill="transparent" stroke="none">_</tspan>VDDD</text>
<g transform="rotate(-90 341.03000000000003 84)"><line x1="317.96" y1="83.6" x2="321.38" y2="83.6" stroke="#1c1c58" stroke-width="0.9"/></g>
<text x="337.03000000000003" y="63" font-size="5.5" fill="#d0869a" text-anchor="start" font-weight="normal" textLength="23.6" lengthAdjust="spacingAndGlyphs" transform="rotate(-90 337.03000000000003 63)">ADC_VDDD</text>
<line x1="346.5" y1="79.5" x2="346.5" y2="29.5" stroke="#4c1a30" stroke-width="1"/>
<text x="343.84000000000003" y="74.5" font-size="7" fill="#101010" text-anchor="start" font-weight="bold" transform="rotate(-90 343.84000000000003 74.5)">70</text>
<text x="348.34000000000003" y="84" font-size="6.8" fill="#1c1c58" text-anchor="end" font-weight="normal" textLength="33.7" lengthAdjust="spacingAndGlyphs" stroke="#1c1c58" stroke-width="0.3" transform="rotate(-90 348.34000000000003 84)">ADC<tspan fill="transparent" stroke="none">_</tspan>CMD</text>
<g transform="rotate(-90 348.34000000000003 84)"><line x1="329.20" y1="83.6" x2="332.60" y2="83.6" stroke="#1c1c58" stroke-width="0.9"/></g>
<text x="344.34000000000003" y="55" font-size="5.5" fill="#d0869a" text-anchor="start" font-weight="normal" textLength="20.7" lengthAdjust="spacingAndGlyphs" transform="rotate(-90 344.34000000000003 55)">ADC_CMD</text>
<line x1="353.5" y1="79.5" x2="353.5" y2="29.5" stroke="#4c1a30" stroke-width="1"/>
<text x="351.15000000000003" y="74.5" font-size="7" fill="#101010" text-anchor="start" font-weight="bold" transform="rotate(-90 351.15000000000003 74.5)">69</text>
<text x="355.65000000000003" y="84" font-size="6.8" fill="#1c1c58" text-anchor="end" font-weight="normal" textLength="25.4" lengthAdjust="spacingAndGlyphs" stroke="#1c1c58" stroke-width="0.3" transform="rotate(-90 355.65000000000003 84)">ADC<tspan fill="transparent" stroke="none">_</tspan>IN</text>
<g transform="rotate(-90 355.65000000000003 84)"><line x1="345.07" y1="83.6" x2="348.52" y2="83.6" stroke="#1c1c58" stroke-width="0.9"/></g>
<text x="351.65000000000003" y="55" font-size="5.5" fill="#d0869a" text-anchor="start" font-weight="normal" textLength="17.7" lengthAdjust="spacingAndGlyphs" transform="rotate(-90 351.65000000000003 55)">ADC_IN</text>
<line x1="360.5" y1="79.5" x2="360.5" y2="25.5" stroke="#4c1a30" stroke-width="1"/>
<text x="358.46000000000004" y="74.5" font-size="7" fill="#101010" text-anchor="start" font-weight="bold" transform="rotate(-90 358.46000000000004 74.5)">68</text>
<text x="362.96000000000004" y="84" font-size="6.8" fill="#1c1c58" text-anchor="end" font-weight="normal" textLength="45.1" lengthAdjust="spacingAndGlyphs" stroke="#1c1c58" stroke-width="0.3" transform="rotate(-90 362.96000000000004 84)">ADC<tspan fill="transparent" stroke="none">_</tspan>OUT&lt;0&gt;</text>
<g transform="rotate(-90 362.96000000000004 84)"><line x1="332.68" y1="83.6" x2="336.14" y2="83.6" stroke="#1c1c58" stroke-width="0.9"/></g>
<text x="358.96000000000004" y="49" font-size="5.5" fill="#d0869a" text-anchor="start" font-weight="normal" textLength="14.8" lengthAdjust="spacingAndGlyphs" transform="rotate(-90 358.96000000000004 49)">DATA0</text>
<line x1="368.5" y1="79.5" x2="368.5" y2="25.5" stroke="#4c1a30" stroke-width="1"/>
<text x="365.77000000000004" y="74.5" font-size="7" fill="#101010" text-anchor="start" font-weight="bold" transform="rotate(-90 365.77000000000004 74.5)">67</text>
<text x="370.27000000000004" y="84" font-size="6.8" fill="#1c1c58" text-anchor="end" font-weight="normal" textLength="45.1" lengthAdjust="spacingAndGlyphs" stroke="#1c1c58" stroke-width="0.3" transform="rotate(-90 370.27000000000004 84)">ADC<tspan fill="transparent" stroke="none">_</tspan>OUT&lt;1&gt;</text>
<g transform="rotate(-90 370.27000000000004 84)"><line x1="339.99" y1="83.6" x2="343.45" y2="83.6" stroke="#1c1c58" stroke-width="0.9"/></g>
<text x="366.27000000000004" y="49" font-size="5.5" fill="#d0869a" text-anchor="start" font-weight="normal" textLength="14.8" lengthAdjust="spacingAndGlyphs" transform="rotate(-90 366.27000000000004 49)">DATA1</text>
<line x1="375.5" y1="79.5" x2="375.5" y2="25.5" stroke="#4c1a30" stroke-width="1"/>
<text x="373.08000000000004" y="74.5" font-size="7" fill="#101010" text-anchor="start" font-weight="bold" transform="rotate(-90 373.08000000000004 74.5)">66</text>
<text x="377.58000000000004" y="84" font-size="6.8" fill="#1c1c58" text-anchor="end" font-weight="normal" textLength="45.1" lengthAdjust="spacingAndGlyphs" stroke="#1c1c58" stroke-width="0.3" transform="rotate(-90 377.58000000000004 84)">ADC<tspan fill="transparent" stroke="none">_</tspan>OUT&lt;2&gt;</text>
<g transform="rotate(-90 377.58000000000004 84)"><line x1="347.30" y1="83.6" x2="350.76" y2="83.6" stroke="#1c1c58" stroke-width="0.9"/></g>
<text x="373.58000000000004" y="49" font-size="5.5" fill="#d0869a" text-anchor="start" font-weight="normal" textLength="14.8" lengthAdjust="spacingAndGlyphs" transform="rotate(-90 373.58000000000004 49)">DATA2</text>
<line x1="382.5" y1="79.5" x2="382.5" y2="25.5" stroke="#4c1a30" stroke-width="1"/>
<text x="380.39" y="74.5" font-size="7" fill="#101010" text-anchor="start" font-weight="bold" transform="rotate(-90 380.39 74.5)">65</text>
<text x="384.89" y="84" font-size="6.8" fill="#1c1c58" text-anchor="end" font-weight="normal" textLength="45.1" lengthAdjust="spacingAndGlyphs" stroke="#1c1c58" stroke-width="0.3" transform="rotate(-90 384.89 84)">ADC<tspan fill="transparent" stroke="none">_</tspan>OUT&lt;3&gt;</text>
<g transform="rotate(-90 384.89 84)"><line x1="354.61" y1="83.6" x2="358.07" y2="83.6" stroke="#1c1c58" stroke-width="0.9"/></g>
<text x="380.89" y="49" font-size="5.5" fill="#d0869a" text-anchor="start" font-weight="normal" textLength="14.8" lengthAdjust="spacingAndGlyphs" transform="rotate(-90 380.89 49)">DATA3</text>
<line x1="390.5" y1="79.5" x2="390.5" y2="25.5" stroke="#4c1a30" stroke-width="1"/>
<text x="387.70000000000005" y="74.5" font-size="7" fill="#101010" text-anchor="start" font-weight="bold" transform="rotate(-90 387.70000000000005 74.5)">64</text>
<text x="392.20000000000005" y="84" font-size="6.8" fill="#1c1c58" text-anchor="end" font-weight="normal" textLength="45.1" lengthAdjust="spacingAndGlyphs" stroke="#1c1c58" stroke-width="0.3" transform="rotate(-90 392.20000000000005 84)">ADC<tspan fill="transparent" stroke="none">_</tspan>OUT&lt;4&gt;</text>
<g transform="rotate(-90 392.20000000000005 84)"><line x1="361.92" y1="83.6" x2="365.38" y2="83.6" stroke="#1c1c58" stroke-width="0.9"/></g>
<text x="388.20000000000005" y="49" font-size="5.5" fill="#d0869a" text-anchor="start" font-weight="normal" textLength="14.8" lengthAdjust="spacingAndGlyphs" transform="rotate(-90 388.20000000000005 49)">DATA4</text>
<line x1="397.5" y1="79.5" x2="397.5" y2="25.5" stroke="#4c1a30" stroke-width="1"/>
<text x="395.01" y="74.5" font-size="7" fill="#101010" text-anchor="start" font-weight="bold" transform="rotate(-90 395.01 74.5)">63</text>
<text x="399.51" y="84" font-size="6.8" fill="#1c1c58" text-anchor="end" font-weight="normal" textLength="45.1" lengthAdjust="spacingAndGlyphs" stroke="#1c1c58" stroke-width="0.3" transform="rotate(-90 399.51 84)">ADC<tspan fill="transparent" stroke="none">_</tspan>OUT&lt;5&gt;</text>
<g transform="rotate(-90 399.51 84)"><line x1="369.23" y1="83.6" x2="372.69" y2="83.6" stroke="#1c1c58" stroke-width="0.9"/></g>
<text x="395.51" y="49" font-size="5.5" fill="#d0869a" text-anchor="start" font-weight="normal" textLength="14.8" lengthAdjust="spacingAndGlyphs" transform="rotate(-90 395.51 49)">DATA5</text>
<line x1="404.5" y1="79.5" x2="404.5" y2="25.5" stroke="#4c1a30" stroke-width="1"/>
<text x="402.32000000000005" y="74.5" font-size="7" fill="#101010" text-anchor="start" font-weight="bold" transform="rotate(-90 402.32000000000005 74.5)">62</text>
<text x="406.82000000000005" y="84" font-size="6.8" fill="#1c1c58" text-anchor="end" font-weight="normal" textLength="45.1" lengthAdjust="spacingAndGlyphs" stroke="#1c1c58" stroke-width="0.3" transform="rotate(-90 406.82000000000005 84)">ADC<tspan fill="transparent" stroke="none">_</tspan>OUT&lt;6&gt;</text>
<g transform="rotate(-90 406.82000000000005 84)"><line x1="376.54" y1="83.6" x2="380.00" y2="83.6" stroke="#1c1c58" stroke-width="0.9"/></g>
<text x="402.82000000000005" y="49" font-size="5.5" fill="#d0869a" text-anchor="start" font-weight="normal" textLength="14.8" lengthAdjust="spacingAndGlyphs" transform="rotate(-90 402.82000000000005 49)">DATA6</text>
<line x1="412.5" y1="79.5" x2="412.5" y2="25.5" stroke="#4c1a30" stroke-width="1"/>
<text x="409.63" y="74.5" font-size="7" fill="#101010" text-anchor="start" font-weight="bold" transform="rotate(-90 409.63 74.5)">61</text>
<text x="414.13" y="84" font-size="6.8" fill="#1c1c58" text-anchor="end" font-weight="normal" textLength="45.1" lengthAdjust="spacingAndGlyphs" stroke="#1c1c58" stroke-width="0.3" transform="rotate(-90 414.13 84)">ADC<tspan fill="transparent" stroke="none">_</tspan>OUT&lt;7&gt;</text>
<g transform="rotate(-90 414.13 84)"><line x1="383.85" y1="83.6" x2="387.31" y2="83.6" stroke="#1c1c58" stroke-width="0.9"/></g>
<text x="410.13" y="49" font-size="5.5" fill="#d0869a" text-anchor="start" font-weight="normal" textLength="14.8" lengthAdjust="spacingAndGlyphs" transform="rotate(-90 410.13 49)">DATA7</text>
<line x1="419.5" y1="79.5" x2="419.5" y2="25.5" stroke="#4c1a30" stroke-width="1"/>
<text x="416.94" y="74.5" font-size="7" fill="#101010" text-anchor="start" font-weight="bold" transform="rotate(-90 416.94 74.5)">60</text>
<text x="421.44" y="84" font-size="6.8" fill="#1c1c58" text-anchor="end" font-weight="normal" textLength="45.1" lengthAdjust="spacingAndGlyphs" stroke="#1c1c58" stroke-width="0.3" transform="rotate(-90 421.44 84)">ADC<tspan fill="transparent" stroke="none">_</tspan>OUT&lt;8&gt;</text>
<g transform="rotate(-90 421.44 84)"><line x1="391.16" y1="83.6" x2="394.62" y2="83.6" stroke="#1c1c58" stroke-width="0.9"/></g>
<text x="417.44" y="49" font-size="5.5" fill="#d0869a" text-anchor="start" font-weight="normal" textLength="14.8" lengthAdjust="spacingAndGlyphs" transform="rotate(-90 417.44 49)">DATA8</text>
<line x1="426.5" y1="79.5" x2="426.5" y2="25.5" stroke="#4c1a30" stroke-width="1"/>
<text x="424.25" y="74.5" font-size="7" fill="#101010" text-anchor="start" font-weight="bold" transform="rotate(-90 424.25 74.5)">59</text>
<text x="428.75" y="84" font-size="6.8" fill="#1c1c58" text-anchor="end" font-weight="normal" textLength="45.1" lengthAdjust="spacingAndGlyphs" stroke="#1c1c58" stroke-width="0.3" transform="rotate(-90 428.75 84)">ADC<tspan fill="transparent" stroke="none">_</tspan>OUT&lt;9&gt;</text>
<g transform="rotate(-90 428.75 84)"><line x1="398.47" y1="83.6" x2="401.93" y2="83.6" stroke="#1c1c58" stroke-width="0.9"/></g>
<text x="424.75" y="49" font-size="5.5" fill="#d0869a" text-anchor="start" font-weight="normal" textLength="14.8" lengthAdjust="spacingAndGlyphs" transform="rotate(-90 424.75 49)">DATA9</text>
<line x1="434.5" y1="79.5" x2="434.5" y2="15.5" stroke="#4c1a30" stroke-width="1"/>
<text x="431.56" y="74.5" font-size="7" fill="#101010" text-anchor="start" font-weight="bold" transform="rotate(-90 431.56 74.5)">58</text>
<text x="436.06" y="84" font-size="6.8" fill="#1c1c58" text-anchor="end" font-weight="normal" textLength="42.1" lengthAdjust="spacingAndGlyphs" stroke="#1c1c58" stroke-width="0.3" transform="rotate(-90 436.06 84)">ADC<tspan fill="transparent" stroke="none">_</tspan>CLOCK</text>
<g transform="rotate(-90 436.06 84)"><line x1="408.69" y1="83.6" x2="412.12" y2="83.6" stroke="#1c1c58" stroke-width="0.9"/></g>
<text x="432.06" y="49" font-size="5.5" fill="#d0869a" text-anchor="start" font-weight="normal" textLength="26.6" lengthAdjust="spacingAndGlyphs" transform="rotate(-90 432.06 49)">ADC_CLOCK</text>
<line x1="441.5" y1="79.5" x2="441.5" y2="6.5" stroke="#4c1a30" stroke-width="1"/>
<text x="438.87" y="74.5" font-size="7" fill="#101010" text-anchor="start" font-weight="bold" transform="rotate(-90 438.87 74.5)">57</text>
<text x="443.37" y="84" font-size="6.8" fill="#1c1c58" text-anchor="end" font-weight="normal" textLength="37.8" lengthAdjust="spacingAndGlyphs" stroke="#1c1c58" stroke-width="0.3" transform="rotate(-90 443.37 84)">ADC<tspan fill="transparent" stroke="none">_</tspan>VDDD</text>
<g transform="rotate(-90 443.37 84)"><line x1="420.30" y1="83.6" x2="423.72" y2="83.6" stroke="#1c1c58" stroke-width="0.9"/></g>
<text x="439.37" y="63" font-size="5.5" fill="#d0869a" text-anchor="start" font-weight="normal" textLength="23.6" lengthAdjust="spacingAndGlyphs" transform="rotate(-90 439.37 63)">ADC_VDDD</text>
<line x1="448.5" y1="79.5" x2="448.5" y2="15.5" stroke="#4c1a30" stroke-width="1"/>
<text x="446.18" y="74.5" font-size="7" fill="#101010" text-anchor="start" font-weight="bold" transform="rotate(-90 446.18 74.5)">56</text>
<text x="450.68" y="84" font-size="6.8" fill="#1c1c58" text-anchor="end" font-weight="normal" textLength="38.4" lengthAdjust="spacingAndGlyphs" stroke="#1c1c58" stroke-width="0.3" transform="rotate(-90 450.68 84)">ADC<tspan fill="transparent" stroke="none">_</tspan>GNDD</text>
<g transform="rotate(-90 450.68 84)"><line x1="426.91" y1="83.6" x2="430.32" y2="83.6" stroke="#1c1c58" stroke-width="0.9"/></g>
<text x="446.68" y="63" font-size="5.5" fill="#d0869a" text-anchor="start" font-weight="normal" textLength="23.6" lengthAdjust="spacingAndGlyphs" transform="rotate(-90 446.68 63)">ADC_GNDD</text>
<line x1="455.5" y1="79.5" x2="455.5" y2="21.5" stroke="#4c1a30" stroke-width="1"/>
<text x="453.49" y="74.5" font-size="7" fill="#101010" text-anchor="start" font-weight="bold" transform="rotate(-90 453.49 74.5)">55</text>
<text x="457.99" y="84" font-size="6.8" fill="#1c1c58" text-anchor="end" font-weight="normal" textLength="37.4" lengthAdjust="spacingAndGlyphs" stroke="#1c1c58" stroke-width="0.3" transform="rotate(-90 457.99 84)">ADC<tspan fill="transparent" stroke="none">_</tspan>VDDA</text>
<g transform="rotate(-90 457.99 84)"><line x1="435.27" y1="83.6" x2="438.69" y2="83.6" stroke="#1c1c58" stroke-width="0.9"/></g>
<text x="453.99" y="63" font-size="5.5" fill="#d0869a" text-anchor="start" font-weight="normal" textLength="23.6" lengthAdjust="spacingAndGlyphs" transform="rotate(-90 453.99 63)">ADC_VDDA</text>
<line x1="463.5" y1="79.5" x2="463.5" y2="36.5" stroke="#4c1a30" stroke-width="1"/>
<text x="460.8" y="74.5" font-size="7" fill="#101010" text-anchor="start" font-weight="bold" transform="rotate(-90 460.8 74.5)">54</text>
<text x="465.3" y="84" font-size="6.8" fill="#1c1c58" text-anchor="end" font-weight="normal" textLength="38.1" lengthAdjust="spacingAndGlyphs" stroke="#1c1c58" stroke-width="0.3" transform="rotate(-90 465.3 84)">ADC<tspan fill="transparent" stroke="none">_</tspan>GNDA</text>
<g transform="rotate(-90 465.3 84)"><line x1="441.88" y1="83.6" x2="445.29" y2="83.6" stroke="#1c1c58" stroke-width="0.9"/></g>
<text x="461.3" y="63" font-size="5.5" fill="#d0869a" text-anchor="start" font-weight="normal" textLength="23.6" lengthAdjust="spacingAndGlyphs" transform="rotate(-90 461.3 63)">ADC_GNDA</text>
<line x1="349.5" y1="17.5" x2="418.5" y2="17.5" stroke="#2020a0" stroke-width="2"/>
<line x1="352.96000000000004" y1="17" x2="360.5" y2="25" stroke="#4c1a30" stroke-width="1"/>
<line x1="360.27000000000004" y1="17" x2="368.5" y2="25" stroke="#4c1a30" stroke-width="1"/>
<line x1="367.58000000000004" y1="17" x2="375.5" y2="25" stroke="#4c1a30" stroke-width="1"/>
<line x1="374.89" y1="17" x2="382.5" y2="25" stroke="#4c1a30" stroke-width="1"/>
<line x1="382.20000000000005" y1="17" x2="390.5" y2="25" stroke="#4c1a30" stroke-width="1"/>
<line x1="389.51" y1="17" x2="397.5" y2="25" stroke="#4c1a30" stroke-width="1"/>
<line x1="396.82000000000005" y1="17" x2="404.5" y2="25" stroke="#4c1a30" stroke-width="1"/>
<line x1="404.13" y1="17" x2="412.5" y2="25" stroke="#4c1a30" stroke-width="1"/>
<line x1="411.44" y1="17" x2="419.5" y2="25" stroke="#4c1a30" stroke-width="1"/>
<line x1="418.75" y1="17" x2="426.5" y2="25" stroke="#4c1a30" stroke-width="1"/>
<text x="351" y="13" font-size="5.5" fill="#d0869a" text-anchor="start" font-weight="normal" textLength="23.0" lengthAdjust="spacingAndGlyphs">DATA[0..9]</text>
<polyline points="339.5,6.5 229.5,6.5 229.5,57.5" fill="none" stroke="#4c1a30" stroke-width="1"/>
<rect x="228" y="35.7" width="3" height="4" fill="#fff"/>
<line x1="222.0" y1="35.7" x2="237.0" y2="35.7" stroke="#1e2284" stroke-width="1.3"/>
<line x1="222.0" y1="39.7" x2="237.0" y2="39.7" stroke="#1e2284" stroke-width="1.3"/>
<polygon points="222.0,57.5 237.0,57.5 229.5,64.5" fill="none" stroke="#4c1a30" stroke-width="1"/>
<polyline points="317.5,14.5 272.5,14.5 272.5,57.5" fill="none" stroke="#4c1a30" stroke-width="1"/>
<rect x="271" y="35.7" width="3" height="4" fill="#fff"/>
<line x1="265.0" y1="35.7" x2="280.0" y2="35.7" stroke="#1e2284" stroke-width="1.3"/>
<line x1="265.0" y1="39.7" x2="280.0" y2="39.7" stroke="#1e2284" stroke-width="1.3"/>
<polygon points="265.0,57.5 280.0,57.5 272.5,64.5" fill="none" stroke="#4c1a30" stroke-width="1"/>
<text x="242" y="37" font-size="5.5" fill="#a0a0a8" text-anchor="start" font-weight="normal" textLength="5.9" lengthAdjust="spacingAndGlyphs">C1</text>
<text x="242" y="44" font-size="5.5" fill="#a0a0a8" text-anchor="start" font-weight="normal" textLength="11.8" lengthAdjust="spacingAndGlyphs">0.1u</text>
<text x="285" y="37" font-size="5.5" fill="#a0a0a8" text-anchor="start" font-weight="normal" textLength="5.9" lengthAdjust="spacingAndGlyphs">C2</text>
<text x="285" y="44" font-size="5.5" fill="#a0a0a8" text-anchor="start" font-weight="normal" textLength="11.8" lengthAdjust="spacingAndGlyphs">0.1u</text>
<text x="281" y="69" font-size="5.5" fill="#a0a0a8" text-anchor="start" font-weight="normal" textLength="5.9" lengthAdjust="spacingAndGlyphs">U1</text>
<polyline points="441.5,6.5 542.5,6.5 542.5,65.5" fill="none" stroke="#4c1a30" stroke-width="1"/>
<rect x="541" y="35.5" width="3" height="4" fill="#fff"/>
<line x1="535.0" y1="35.5" x2="550.0" y2="35.5" stroke="#1e2284" stroke-width="1.3"/>
<line x1="535.0" y1="39.5" x2="550.0" y2="39.5" stroke="#1e2284" stroke-width="1.3"/>
<polygon points="535.0,65.5 550.0,65.5 542.5,72.5" fill="none" stroke="#4c1a30" stroke-width="1"/>
<polyline points="455.5,21.5 499.5,21.5 499.5,65.5" fill="none" stroke="#4c1a30" stroke-width="1"/>
<rect x="498" y="35.5" width="3" height="4" fill="#fff"/>
<line x1="492.0" y1="35.5" x2="507.0" y2="35.5" stroke="#1e2284" stroke-width="1.3"/>
<line x1="492.0" y1="39.5" x2="507.0" y2="39.5" stroke="#1e2284" stroke-width="1.3"/>
<polygon points="492.0,65.5 507.0,65.5 499.5,72.5" fill="none" stroke="#4c1a30" stroke-width="1"/>
<text x="514" y="37" font-size="5.5" fill="#a0a0a8" text-anchor="start" font-weight="normal" textLength="5.9" lengthAdjust="spacingAndGlyphs">C3</text>
<text x="514" y="44" font-size="5.5" fill="#a0a0a8" text-anchor="start" font-weight="normal" textLength="11.8" lengthAdjust="spacingAndGlyphs">0.1u</text>
<text x="557" y="37" font-size="5.5" fill="#a0a0a8" text-anchor="start" font-weight="normal" textLength="5.9" lengthAdjust="spacingAndGlyphs">C4</text>
<text x="557" y="44" font-size="5.5" fill="#a0a0a8" text-anchor="start" font-weight="normal" textLength="11.8" lengthAdjust="spacingAndGlyphs">0.1u</text>
<line x1="323.5" y1="298.5" x2="323.5" y2="370.5" stroke="#4c1a30" stroke-width="1"/>
<text x="321.9" y="310" font-size="7" fill="#101010" text-anchor="start" font-weight="bold" transform="rotate(-90 321.9 310)">12</text>
<text x="325.9" y="293" font-size="6.8" fill="#1c1c58" text-anchor="start" font-weight="normal" textLength="30.7" lengthAdjust="spacingAndGlyphs" stroke="#1c1c58" stroke-width="0.3" transform="rotate(-90 325.9 293)">IF<tspan fill="transparent" stroke="none">_</tspan>MODE</text>
<g transform="rotate(-90 325.9 293)"><line x1="332.25" y1="292.6" x2="335.70" y2="292.6" stroke="#1c1c58" stroke-width="0.9"/></g>
<text x="321.9" y="355" font-size="5.5" fill="#d0869a" text-anchor="start" font-weight="normal" textLength="20.7" lengthAdjust="spacingAndGlyphs" transform="rotate(-90 321.9 355)">IF_MODE</text>
<line x1="331.5" y1="298.5" x2="331.5" y2="356.5" stroke="#4c1a30" stroke-width="1"/>
<text x="329.21" y="310" font-size="7" fill="#101010" text-anchor="start" font-weight="bold" transform="rotate(-90 329.21 310)">13</text>
<text x="333.21" y="293" font-size="6.8" fill="#1c1c58" text-anchor="start" font-weight="normal" textLength="33.7" lengthAdjust="spacingAndGlyphs" stroke="#1c1c58" stroke-width="0.3" transform="rotate(-90 333.21 293)">DEC<tspan fill="transparent" stroke="none">_</tspan>CMD</text>
<g transform="rotate(-90 333.21 293)"><line x1="347.82" y1="292.6" x2="351.22" y2="292.6" stroke="#1c1c58" stroke-width="0.9"/></g>
<text x="329.21" y="355" font-size="5.5" fill="#d0869a" text-anchor="start" font-weight="normal" textLength="20.7" lengthAdjust="spacingAndGlyphs" transform="rotate(-90 329.21 355)">DEC_CMD</text>
<line x1="338.5" y1="298.5" x2="338.5" y2="356.5" stroke="#4c1a30" stroke-width="1"/>
<text x="336.52" y="310" font-size="7" fill="#101010" text-anchor="start" font-weight="bold" transform="rotate(-90 336.52 310)">14</text>
<text x="340.52" y="293" font-size="6.8" fill="#1c1c58" text-anchor="start" font-weight="normal" textLength="30.5" lengthAdjust="spacingAndGlyphs" stroke="#1c1c58" stroke-width="0.3" transform="rotate(-90 340.52 293)">Y<tspan fill="transparent" stroke="none">_</tspan>START</text>
<g transform="rotate(-90 340.52 293)"><line x1="345.34" y1="292.6" x2="348.79" y2="292.6" stroke="#1c1c58" stroke-width="0.9"/></g>
<text x="336.52" y="355" font-size="5.5" fill="#d0869a" text-anchor="start" font-weight="normal" textLength="20.7" lengthAdjust="spacingAndGlyphs" transform="rotate(-90 336.52 355)">Y_START</text>
<line x1="345.5" y1="298.5" x2="345.5" y2="356.5" stroke="#4c1a30" stroke-width="1"/>
<text x="343.83" y="310" font-size="7" fill="#101010" text-anchor="start" font-weight="bold" transform="rotate(-90 343.83 310)">15</text>
<text x="347.83" y="293" font-size="6.8" fill="#1c1c58" text-anchor="start" font-weight="normal" textLength="32.1" lengthAdjust="spacingAndGlyphs" stroke="#1c1c58" stroke-width="0.3" transform="rotate(-90 347.83 293)">Y<tspan fill="transparent" stroke="none">_</tspan>CLOCK</text>
<g transform="rotate(-90 347.83 293)"><line x1="352.61" y1="292.6" x2="356.04" y2="292.6" stroke="#1c1c58" stroke-width="0.9"/></g>
<text x="343.83" y="355" font-size="5.5" fill="#d0869a" text-anchor="start" font-weight="normal" textLength="20.7" lengthAdjust="spacingAndGlyphs" transform="rotate(-90 343.83 355)">Y_CLOCK</text>
<line x1="353.5" y1="298.5" x2="353.5" y2="356.5" stroke="#4c1a30" stroke-width="1"/>
<text x="351.14" y="310" font-size="7" fill="#101010" text-anchor="start" font-weight="bold" transform="rotate(-90 351.14 310)">16</text>
<text x="355.14" y="293" font-size="6.8" fill="#1c1c58" text-anchor="start" font-weight="normal" textLength="37.1" lengthAdjust="spacingAndGlyphs" stroke="#1c1c58" stroke-width="0.3" transform="rotate(-90 355.14 293)">LAST<tspan fill="transparent" stroke="none">_</tspan>LINE</text>
<g transform="rotate(-90 355.14 293)"><line x1="372.92" y1="292.6" x2="376.43" y2="292.6" stroke="#1c1c58" stroke-width="0.9"/></g>
<text x="351.14" y="355" font-size="5.5" fill="#d0869a" text-anchor="start" font-weight="normal" textLength="26.6" lengthAdjust="spacingAndGlyphs" transform="rotate(-90 351.14 355)">LAST_LINE</text>
<line x1="360.5" y1="298.5" x2="360.5" y2="367.5" stroke="#4c1a30" stroke-width="1"/>
<text x="358.45" y="310" font-size="7" fill="#101010" text-anchor="start" font-weight="bold" transform="rotate(-90 358.45 310)">17</text>
<text x="362.45" y="293" font-size="6.8" fill="#1c1c58" text-anchor="start" font-weight="normal" textLength="27.1" lengthAdjust="spacingAndGlyphs" stroke="#1c1c58" stroke-width="0.3" transform="rotate(-90 362.45 293)">X<tspan fill="transparent" stroke="none">_</tspan>LOAD</text>
<g transform="rotate(-90 362.45 293)"><line x1="367.23" y1="292.6" x2="370.64" y2="292.6" stroke="#1c1c58" stroke-width="0.9"/></g>
<text x="358.45" y="355" font-size="5.5" fill="#d0869a" text-anchor="start" font-weight="normal" textLength="17.7" lengthAdjust="spacingAndGlyphs" transform="rotate(-90 358.45 355)">X_LOAD</text>
<line x1="367.5" y1="298.5" x2="367.5" y2="356.5" stroke="#4c1a30" stroke-width="1"/>
<text x="365.76" y="310" font-size="7" fill="#101010" text-anchor="start" font-weight="bold" transform="rotate(-90 365.76 310)">18</text>
<text x="369.76" y="293" font-size="6.8" fill="#1c1c58" text-anchor="start" font-weight="normal" textLength="41.5" lengthAdjust="spacingAndGlyphs" stroke="#1c1c58" stroke-width="0.3" transform="rotate(-90 369.76 293)">SYS<tspan fill="transparent" stroke="none">_</tspan>CLOCK</text>
<g transform="rotate(-90 369.76 293)"><line x1="383.78" y1="292.6" x2="387.22" y2="292.6" stroke="#1c1c58" stroke-width="0.9"/></g>
<text x="365.76" y="355" font-size="5.5" fill="#d0869a" text-anchor="start" font-weight="normal" textLength="26.6" lengthAdjust="spacingAndGlyphs" transform="rotate(-90 365.76 355)">SYS_CLOCK</text>
<line x1="375.5" y1="298.5" x2="375.5" y2="356.5" stroke="#4c1a30" stroke-width="1"/>
<text x="373.07" y="310" font-size="7" fill="#101010" text-anchor="start" font-weight="bold" transform="rotate(-90 373.07 310)">19</text>
<text x="377.07" y="293" font-size="6.8" fill="#1c1c58" text-anchor="start" font-weight="normal" textLength="37.0" lengthAdjust="spacingAndGlyphs" stroke="#1c1c58" stroke-width="0.3" transform="rotate(-90 377.07 293)">PXL<tspan fill="transparent" stroke="none">_</tspan>VALID</text>
<g transform="rotate(-90 377.07 293)"><line x1="390.56" y1="292.6" x2="394.08" y2="292.6" stroke="#1c1c58" stroke-width="0.9"/></g>
<text x="373.07" y="355" font-size="5.5" fill="#d0869a" text-anchor="start" font-weight="normal" textLength="26.6" lengthAdjust="spacingAndGlyphs" transform="rotate(-90 373.07 355)">PXL_VALID</text>
<line x1="382.5" y1="298.5" x2="382.5" y2="356.5" stroke="#4c1a30" stroke-width="1"/>
<text x="380.38" y="310" font-size="7" fill="#101010" text-anchor="start" font-weight="bold" transform="rotate(-90 380.38 310)">20</text>
<text x="384.38" y="293" font-size="6.8" fill="#1c1c58" text-anchor="start" font-weight="normal" textLength="36.2" lengthAdjust="spacingAndGlyphs" stroke="#1c1c58" stroke-width="0.3" transform="rotate(-90 384.38 293)">CG<tspan fill="transparent" stroke="none">_</tspan>START</text>
<g transform="rotate(-90 384.38 293)"><line x1="394.94" y1="292.6" x2="398.38" y2="292.6" stroke="#1c1c58" stroke-width="0.9"/></g>
<text x="380.38" y="355" font-size="5.5" fill="#d0869a" text-anchor="start" font-weight="normal" textLength="23.6" lengthAdjust="spacingAndGlyphs" transform="rotate(-90 380.38 355)">CG_START</text>
<line x1="389.5" y1="298.5" x2="389.5" y2="356.5" stroke="#4c1a30" stroke-width="1"/>
<text x="387.68999999999994" y="310" font-size="7" fill="#101010" text-anchor="start" font-weight="bold" transform="rotate(-90 387.68999999999994 310)">21</text>
<text x="391.68999999999994" y="293" font-size="6.8" fill="#1c1c58" text-anchor="start" font-weight="normal" textLength="32.6" lengthAdjust="spacingAndGlyphs" stroke="#1c1c58" stroke-width="0.3" transform="rotate(-90 391.68999999999994 293)">CG<tspan fill="transparent" stroke="none">_</tspan>STOP</text>
<g transform="rotate(-90 391.68999999999994 293)"><line x1="402.18" y1="292.6" x2="405.59" y2="292.6" stroke="#1c1c58" stroke-width="0.9"/></g>
<text x="387.68999999999994" y="355" font-size="5.5" fill="#d0869a" text-anchor="start" font-weight="normal" textLength="20.7" lengthAdjust="spacingAndGlyphs" transform="rotate(-90 387.68999999999994 355)">CG_STOP</text>
<line x1="396.5" y1="298.5" x2="396.5" y2="356.5" stroke="#4c1a30" stroke-width="1"/>
<text x="395.0" y="310" font-size="7" fill="#101010" text-anchor="start" font-weight="bold" transform="rotate(-90 395.0 310)">22</text>
<text x="399.0" y="293" font-size="6.8" fill="#1c1c58" text-anchor="start" font-weight="normal" textLength="35.1" lengthAdjust="spacingAndGlyphs" stroke="#1c1c58" stroke-width="0.3" transform="rotate(-90 399.0 293)">TIME<tspan fill="transparent" stroke="none">_</tspan>OUT</text>
<g transform="rotate(-90 399.0 293)"><line x1="415.78" y1="292.6" x2="419.24" y2="292.6" stroke="#1c1c58" stroke-width="0.9"/></g>
<text x="395.0" y="355" font-size="5.5" fill="#d0869a" text-anchor="start" font-weight="normal" textLength="23.6" lengthAdjust="spacingAndGlyphs" transform="rotate(-90 395.0 355)">TIME_OUT</text>
<line x1="404.5" y1="298.5" x2="404.5" y2="356.5" stroke="#4c1a30" stroke-width="1"/>
<text x="402.30999999999995" y="310" font-size="7" fill="#101010" text-anchor="start" font-weight="bold" transform="rotate(-90 402.30999999999995 310)">23</text>
<text x="406.30999999999995" y="293" font-size="6.8" fill="#1c1c58" text-anchor="start" font-weight="normal" textLength="40.8" lengthAdjust="spacingAndGlyphs" stroke="#1c1c58" stroke-width="0.3" transform="rotate(-90 406.30999999999995 293)">SYS<tspan fill="transparent" stroke="none">_</tspan>RESET</text>
<g transform="rotate(-90 406.30999999999995 293)"><line x1="420.36" y1="292.6" x2="423.81" y2="292.6" stroke="#1c1c58" stroke-width="0.9"/></g>
<text x="402.30999999999995" y="355" font-size="5.5" fill="#d0869a" text-anchor="start" font-weight="normal" textLength="26.6" lengthAdjust="spacingAndGlyphs" transform="rotate(-90 402.30999999999995 355)">SYS_RESET</text>
<line x1="411.5" y1="298.5" x2="411.5" y2="368.5" stroke="#4c1a30" stroke-width="1"/>
<text x="409.62" y="310" font-size="7" fill="#101010" text-anchor="start" font-weight="bold" transform="rotate(-90 409.62 310)">24</text>
<text x="413.62" y="293" font-size="6.8" fill="#1c1c58" text-anchor="start" font-weight="normal" textLength="35.1" lengthAdjust="spacingAndGlyphs" stroke="#1c1c58" stroke-width="0.3" transform="rotate(-90 413.62 293)">EL<tspan fill="transparent" stroke="none">_</tspan>BLACK</text>
<g transform="rotate(-90 413.62 293)"><line x1="422.31" y1="292.6" x2="425.77" y2="292.6" stroke="#1c1c58" stroke-width="0.9"/></g>
<text x="409.62" y="355" font-size="5.5" fill="#d0869a" text-anchor="start" font-weight="normal" textLength="23.6" lengthAdjust="spacingAndGlyphs" transform="rotate(-90 409.62 355)">EL_BLACK</text>
<line x1="418.5" y1="298.5" x2="418.5" y2="368.5" stroke="#4c1a30" stroke-width="1"/>
<text x="416.92999999999995" y="310" font-size="7" fill="#101010" text-anchor="start" font-weight="bold" transform="rotate(-90 416.92999999999995 310)">25</text>
<text x="420.92999999999995" y="293" font-size="6.8" fill="#1c1c58" text-anchor="start" font-weight="normal" textLength="18.7" lengthAdjust="spacingAndGlyphs" stroke="#1c1c58" stroke-width="0.3" transform="rotate(-90 420.92999999999995 293)">EOSX</text>
<text x="416.92999999999995" y="355" font-size="5.5" fill="#d0869a" text-anchor="start" font-weight="normal" textLength="11.8" lengthAdjust="spacingAndGlyphs" transform="rotate(-90 416.92999999999995 355)">EOSX</text>
<line x1="426.5" y1="298.5" x2="426.5" y2="368.5" stroke="#4c1a30" stroke-width="1"/>
<text x="424.23999999999995" y="310" font-size="7" fill="#101010" text-anchor="start" font-weight="bold" transform="rotate(-90 424.23999999999995 310)">26</text>
<text x="428.23999999999995" y="293" font-size="6.8" fill="#1c1c58" text-anchor="start" font-weight="normal" textLength="40.4" lengthAdjust="spacingAndGlyphs" stroke="#1c1c58" stroke-width="0.3" transform="rotate(-90 428.23999999999995 293)">DAC<tspan fill="transparent" stroke="none">_</tspan>VHIGH</text>
<g transform="rotate(-90 428.23999999999995 293)"><line x1="443.08" y1="292.6" x2="446.53" y2="292.6" stroke="#1c1c58" stroke-width="0.9"/></g>
<text x="424.23999999999995" y="355" font-size="5.5" fill="#d0869a" text-anchor="start" font-weight="normal" textLength="26.6" lengthAdjust="spacingAndGlyphs" transform="rotate(-90 424.23999999999995 355)">DAC_VHIGH</text>
<line x1="433.5" y1="298.5" x2="433.5" y2="368.5" stroke="#4c1a30" stroke-width="1"/>
<text x="431.54999999999995" y="310" font-size="7" fill="#101010" text-anchor="start" font-weight="bold" transform="rotate(-90 431.54999999999995 310)">27</text>
<text x="435.54999999999995" y="293" font-size="6.8" fill="#1c1c58" text-anchor="start" font-weight="normal" textLength="38.4" lengthAdjust="spacingAndGlyphs" stroke="#1c1c58" stroke-width="0.3" transform="rotate(-90 435.54999999999995 293)">DAC<tspan fill="transparent" stroke="none">_</tspan>VLOW</text>
<g transform="rotate(-90 435.54999999999995 293)"><line x1="450.21" y1="292.6" x2="453.62" y2="292.6" stroke="#1c1c58" stroke-width="0.9"/></g>
<text x="431.54999999999995" y="355" font-size="5.5" fill="#d0869a" text-anchor="start" font-weight="normal" textLength="23.6" lengthAdjust="spacingAndGlyphs" transform="rotate(-90 431.54999999999995 355)">DAC_VLOW</text>
<line x1="440.5" y1="298.5" x2="440.5" y2="356.5" stroke="#4c1a30" stroke-width="1"/>
<text x="438.85999999999996" y="310" font-size="7" fill="#101010" text-anchor="start" font-weight="bold" transform="rotate(-90 438.85999999999996 310)">28</text>
<text x="442.85999999999996" y="293" font-size="6.8" fill="#1c1c58" text-anchor="start" font-weight="normal" textLength="35.4" lengthAdjust="spacingAndGlyphs" stroke="#1c1c58" stroke-width="0.3" transform="rotate(-90 442.85999999999996 293)">PXL<tspan fill="transparent" stroke="none">_</tspan>OUT1</text>
<g transform="rotate(-90 442.85999999999996 293)"><line x1="456.16" y1="292.6" x2="459.62" y2="292.6" stroke="#1c1c58" stroke-width="0.9"/></g>
<text x="438.85999999999996" y="355" font-size="5.5" fill="#d0869a" text-anchor="start" font-weight="normal" textLength="17.7" lengthAdjust="spacingAndGlyphs" transform="rotate(-90 438.85999999999996 355)">ADC_IN</text>
<line x1="448.5" y1="298.5" x2="448.5" y2="397.5" stroke="#4c1a30" stroke-width="1"/>
<text x="446.16999999999996" y="310" font-size="7" fill="#101010" text-anchor="start" font-weight="bold" transform="rotate(-90 446.16999999999996 310)">29</text>
<text x="450.16999999999996" y="293" font-size="6.8" fill="#1c1c58" text-anchor="start" font-weight="normal" textLength="35.4" lengthAdjust="spacingAndGlyphs" stroke="#1c1c58" stroke-width="0.3" transform="rotate(-90 450.16999999999996 293)">PXL<tspan fill="transparent" stroke="none">_</tspan>OUT2</text>
<g transform="rotate(-90 450.16999999999996 293)"><line x1="463.47" y1="292.6" x2="466.93" y2="292.6" stroke="#1c1c58" stroke-width="0.9"/></g>
<text x="446.16999999999996" y="355" font-size="5.5" fill="#d0869a" text-anchor="start" font-weight="normal" textLength="23.6" lengthAdjust="spacingAndGlyphs" transform="rotate(-90 446.16999999999996 355)">PXL_OUT2</text>
<line x1="455.5" y1="298.5" x2="455.5" y2="356.5" stroke="#4c1a30" stroke-width="1"/>
<text x="453.47999999999996" y="310" font-size="7" fill="#101010" text-anchor="start" font-weight="bold" transform="rotate(-90 453.47999999999996 310)">30</text>
<text x="457.47999999999996" y="293" font-size="6.8" fill="#1c1c58" text-anchor="start" font-weight="normal" textLength="34.1" lengthAdjust="spacingAndGlyphs" stroke="#1c1c58" stroke-width="0.3" transform="rotate(-90 457.47999999999996 293)">AMP<tspan fill="transparent" stroke="none">_</tspan>CMD</text>
<g transform="rotate(-90 457.47999999999996 293)"><line x1="472.45" y1="292.6" x2="475.84" y2="292.6" stroke="#1c1c58" stroke-width="0.9"/></g>
<text x="453.47999999999996" y="355" font-size="5.5" fill="#d0869a" text-anchor="start" font-weight="normal" textLength="20.7" lengthAdjust="spacingAndGlyphs" transform="rotate(-90 453.47999999999996 355)">AMP_CMD</text>
<line x1="462.5" y1="298.5" x2="462.5" y2="356.5" stroke="#4c1a30" stroke-width="1"/>
<text x="460.78999999999996" y="310" font-size="7" fill="#101010" text-anchor="start" font-weight="bold" transform="rotate(-90 460.78999999999996 310)">31</text>
<text x="464.78999999999996" y="293" font-size="6.8" fill="#1c1c58" text-anchor="start" font-weight="normal" textLength="33.4" lengthAdjust="spacingAndGlyphs" stroke="#1c1c58" stroke-width="0.3" transform="rotate(-90 464.78999999999996 293)">COL<tspan fill="transparent" stroke="none">_</tspan>CMD</text>
<g transform="rotate(-90 464.78999999999996 293)"><line x1="479.04" y1="292.6" x2="482.44" y2="292.6" stroke="#1c1c58" stroke-width="0.9"/></g>
<text x="460.78999999999996" y="355" font-size="5.5" fill="#d0869a" text-anchor="start" font-weight="normal" textLength="20.7" lengthAdjust="spacingAndGlyphs" transform="rotate(-90 460.78999999999996 355)">COL_CMD</text>
<line x1="470.5" y1="298.5" x2="470.5" y2="356.5" stroke="#4c1a30" stroke-width="1"/>
<text x="468.09999999999997" y="310" font-size="7" fill="#101010" text-anchor="start" font-weight="bold" transform="rotate(-90 468.09999999999997 310)">32</text>
<text x="472.09999999999997" y="293" font-size="6.8" fill="#1c1c58" text-anchor="start" font-weight="normal" textLength="28.7" lengthAdjust="spacingAndGlyphs" stroke="#1c1c58" stroke-width="0.3" transform="rotate(-90 472.09999999999997 293)">PC<tspan fill="transparent" stroke="none">_</tspan>CMD</text>
<g transform="rotate(-90 472.09999999999997 293)"><line x1="481.75" y1="292.6" x2="485.14" y2="292.6" stroke="#1c1c58" stroke-width="0.9"/></g>
<text x="468.09999999999997" y="355" font-size="5.5" fill="#d0869a" text-anchor="start" font-weight="normal" textLength="17.7" lengthAdjust="spacingAndGlyphs" transform="rotate(-90 468.09999999999997 355)">PC_CMD</text>
<rect x="440.5" y="397.5" width="15" height="14" fill="none" stroke="#232360" stroke-width="1"/>
<line x1="442.5" y1="389.5" x2="446.5" y2="389.5" stroke="#101010" stroke-width="1"/>
<text x="441" y="420" font-size="5.5" fill="#a0a0a8" text-anchor="start" font-weight="normal" textLength="5.9" lengthAdjust="spacingAndGlyphs">J2</text>
<text x="440" y="429" font-size="5.5" fill="#a0a0a8" text-anchor="start" font-weight="normal" textLength="29.5" lengthAdjust="spacingAndGlyphs">CONNTREUK1</text>
<text x="440" y="437" font-size="5.5" fill="#a0a0a8" text-anchor="start" font-weight="normal" textLength="23.6" lengthAdjust="spacingAndGlyphs">conn_pin</text>
<line x1="7.5" y1="444.5" x2="51.5" y2="444.5" stroke="#4c1a30" stroke-width="1"/>
<polyline points="51.0,444.5 52.1,441.5 54.4,447.5 56.6,441.5 58.9,447.5 61.1,441.5 63.4,447.5 64.5,444.5" fill="none" stroke="#232360" stroke-width="1.1"/>
<line x1="64.5" y1="444.5" x2="120.5" y2="444.5" stroke="#4c1a30" stroke-width="1"/>
<text x="7" y="442" font-size="5.5" fill="#d0869a" text-anchor="start" font-weight="normal" textLength="11.8" lengthAdjust="spacingAndGlyphs">GNDA</text>
<text x="54" y="434" font-size="5.5" fill="#a0a0a8" text-anchor="start" font-weight="normal" textLength="5.9" lengthAdjust="spacingAndGlyphs">R2</text>
<text x="54" y="453" font-size="5.5" fill="#a0a0a8" text-anchor="start" font-weight="normal" textLength="3.0" lengthAdjust="spacingAndGlyphs">0</text>
<text x="77" y="442" font-size="5.5" fill="#d0869a" text-anchor="start" font-weight="normal" textLength="23.6" lengthAdjust="spacingAndGlyphs">DAC_VLOW</text>
<line x1="142.5" y1="441.5" x2="164.5" y2="441.5" stroke="#4c1a30" stroke-width="1"/>
<polyline points="163.5,441.5 164.7,438.5 167.0,444.5 169.3,438.5 171.7,444.5 174.0,438.5 176.3,444.5 177.5,441.5" fill="none" stroke="#232360" stroke-width="1.1"/>
<line x1="178.5" y1="441.5" x2="216.5" y2="441.5" stroke="#4c1a30" stroke-width="1"/>
<rect x="215.95" y="440" width="3.5" height="3" fill="#fff"/>
<line x1="215.95" y1="438.0" x2="215.95" y2="445.0" stroke="#1e2284" stroke-width="1.3"/>
<line x1="219.45" y1="438.0" x2="219.45" y2="445.0" stroke="#1e2284" stroke-width="1.3"/>
<line x1="220.5" y1="441.5" x2="266.5" y2="441.5" stroke="#4c1a30" stroke-width="1"/>
<circle cx="199.5" cy="441.5" r="1.0" fill="#c06090"/>
<polyline points="199.5,441.5 199.5,477.5 149.5,477.5" fill="none" stroke="#4c1a30" stroke-width="1"/>
<text x="143" y="439" font-size="5.5" fill="#d0869a" text-anchor="start" font-weight="normal" textLength="11.8" lengthAdjust="spacingAndGlyphs">VDDA</text>
<text x="166.5" y="430" font-size="5.5" fill="#a0a0a8" text-anchor="start" font-weight="normal" textLength="8.9" lengthAdjust="spacingAndGlyphs">R48</text>
<text x="166.5" y="449" font-size="5.5" fill="#a0a0a8" text-anchor="start" font-weight="normal" textLength="5.9" lengthAdjust="spacingAndGlyphs">5k</text>
<text x="212.7" y="426" font-size="5.5" fill="#a0a0a8" text-anchor="start" font-weight="normal" textLength="8.9" lengthAdjust="spacingAndGlyphs">C17</text>
<text x="213.7" y="456" font-size="5.5" fill="#a0a0a8" text-anchor="start" font-weight="normal" textLength="14.8" lengthAdjust="spacingAndGlyphs">100nF</text>
<text x="243.6" y="439" font-size="5.5" fill="#d0869a" text-anchor="start" font-weight="normal" textLength="11.8" lengthAdjust="spacingAndGlyphs">GNDA</text>
<text x="150" y="475" font-size="5.5" fill="#d0869a" text-anchor="start" font-weight="normal" textLength="26.6" lengthAdjust="spacingAndGlyphs">ADC_VHIGH</text>
<line x1="142.5" y1="499.5" x2="164.5" y2="499.5" stroke="#4c1a30" stroke-width="1"/>
<polyline points="163.5,499.5 164.7,496.5 167.0,502.5 169.3,496.5 171.7,502.5 174.0,496.5 176.3,502.5 177.5,499.5" fill="none" stroke="#232360" stroke-width="1.1"/>
<line x1="178.5" y1="499.5" x2="216.5" y2="499.5" stroke="#4c1a30" stroke-width="1"/>
<rect x="215.95" y="498" width="3.5" height="3" fill="#fff"/>
<line x1="215.95" y1="496.0" x2="215.95" y2="503.0" stroke="#1e2284" stroke-width="1.3"/>
<line x1="219.45" y1="496.0" x2="219.45" y2="503.0" stroke="#1e2284" stroke-width="1.3"/>
<line x1="220.5" y1="499.5" x2="259.5" y2="499.5" stroke="#4c1a30" stroke-width="1"/>
<circle cx="199.5" cy="499.5" r="1.0" fill="#c06090"/>
<polyline points="199.5,499.5 199.5,536.5 149.5,536.5" fill="none" stroke="#4c1a30" stroke-width="1"/>
<text x="143" y="497" font-size="5.5" fill="#d0869a" text-anchor="start" font-weight="normal" textLength="11.8" lengthAdjust="spacingAndGlyphs">VDDA</text>
<text x="166.5" y="488" font-size="5.5" fill="#a0a0a8" text-anchor="start" font-weight="normal" textLength="8.9" lengthAdjust="spacingAndGlyphs">R52</text>
<text x="166.5" y="507" font-size="5.5" fill="#a0a0a8" text-anchor="start" font-weight="normal" textLength="8.9" lengthAdjust="spacingAndGlyphs">47k</text>
<text x="212.7" y="484" font-size="5.5" fill="#a0a0a8" text-anchor="start" font-weight="normal" textLength="8.9" lengthAdjust="spacingAndGlyphs">C19</text>
<text x="213.7" y="514" font-size="5.5" fill="#a0a0a8" text-anchor="start" font-weight="normal" textLength="14.8" lengthAdjust="spacingAndGlyphs">100nF</text>
<text x="243.9" y="497" font-size="5.5" fill="#d0869a" text-anchor="start" font-weight="normal" textLength="11.8" lengthAdjust="spacingAndGlyphs">GNDA</text>
<text x="150" y="534" font-size="5.5" fill="#d0869a" text-anchor="start" font-weight="normal" textLength="20.7" lengthAdjust="spacingAndGlyphs">COL_GND</text>
<line x1="142.5" y1="565.5" x2="164.5" y2="565.5" stroke="#4c1a30" stroke-width="1"/>
<polyline points="163.5,565.5 164.7,562.5 167.0,568.5 169.3,562.5 171.7,568.5 174.0,562.5 176.3,568.5 177.5,565.5" fill="none" stroke="#232360" stroke-width="1.1"/>
<line x1="178.5" y1="565.5" x2="216.5" y2="565.5" stroke="#4c1a30" stroke-width="1"/>
<rect x="215.95" y="564.4" width="3.5" height="3" fill="#fff"/>
<line x1="215.95" y1="562.4" x2="215.95" y2="569.4" stroke="#1e2284" stroke-width="1.3"/>
<line x1="219.45" y1="562.4" x2="219.45" y2="569.4" stroke="#1e2284" stroke-width="1.3"/>
<line x1="220.5" y1="565.5" x2="259.5" y2="565.5" stroke="#4c1a30" stroke-width="1"/>
<circle cx="199.5" cy="565.5" r="1.0" fill="#c06090"/>
<polyline points="199.5,565.5 199.5,601.5 149.5,601.5" fill="none" stroke="#4c1a30" stroke-width="1"/>
<text x="143" y="563.4" font-size="5.5" fill="#d0869a" text-anchor="start" font-weight="normal" textLength="11.8" lengthAdjust="spacingAndGlyphs">VDDA</text>
<text x="166.5" y="554.4" font-size="5.5" fill="#a0a0a8" text-anchor="start" font-weight="normal" textLength="8.9" lengthAdjust="spacingAndGlyphs">R55</text>
<text x="166.5" y="573.4" font-size="5.5" fill="#a0a0a8" text-anchor="start" font-weight="normal" textLength="8.9" lengthAdjust="spacingAndGlyphs">27k</text>
<text x="212.7" y="550.4" font-size="5.5" fill="#a0a0a8" text-anchor="start" font-weight="normal" textLength="8.9" lengthAdjust="spacingAndGlyphs">C18</text>
<text x="213.7" y="580.4" font-size="5.5" fill="#a0a0a8" text-anchor="start" font-weight="normal" textLength="14.8" lengthAdjust="spacingAndGlyphs">100nF</text>
<text x="243.9" y="563.4" font-size="5.5" fill="#d0869a" text-anchor="start" font-weight="normal" textLength="11.8" lengthAdjust="spacingAndGlyphs">GNDA</text>
<text x="150" y="599" font-size="5.5" fill="#d0869a" text-anchor="start" font-weight="normal" textLength="17.7" lengthAdjust="spacingAndGlyphs">PC_GND</text>
<line x1="281.5" y1="441.5" x2="325.5" y2="441.5" stroke="#4c1a30" stroke-width="1"/>
<polyline points="325.0,441.5 326.2,438.5 328.5,444.5 330.8,438.5 333.2,444.5 335.5,438.5 337.8,444.5 339.0,441.5" fill="none" stroke="#232360" stroke-width="1.1"/>
<line x1="339.5" y1="441.5" x2="393.5" y2="441.5" stroke="#4c1a30" stroke-width="1"/>
<text x="281" y="439" font-size="5.5" fill="#d0869a" text-anchor="start" font-weight="normal" textLength="11.8" lengthAdjust="spacingAndGlyphs">VDDA</text>
<text x="328" y="430.5" font-size="5.5" fill="#a0a0a8" text-anchor="start" font-weight="normal" textLength="5.9" lengthAdjust="spacingAndGlyphs">R1</text>
<text x="328" y="449" font-size="5.5" fill="#a0a0a8" text-anchor="start" font-weight="normal" textLength="3.0" lengthAdjust="spacingAndGlyphs">0</text>
<text x="350" y="439" font-size="5.5" fill="#d0869a" text-anchor="start" font-weight="normal" textLength="26.6" lengthAdjust="spacingAndGlyphs">DAC_VHIGH</text>
<line x1="281.5" y1="499.5" x2="325.5" y2="499.5" stroke="#4c1a30" stroke-width="1"/>
<polyline points="325.0,499.5 326.2,496.5 328.5,502.5 330.8,496.5 333.2,502.5 335.5,496.5 337.8,502.5 339.0,499.5" fill="none" stroke="#232360" stroke-width="1.1"/>
<line x1="339.5" y1="499.5" x2="383.5" y2="499.5" stroke="#4c1a30" stroke-width="1"/>
<polyline points="316.5,499.5 316.5,514.5 333.5,514.5" fill="none" stroke="#4c1a30" stroke-width="1"/>
<rect x="332.85" y="513" width="3.5" height="3" fill="#fff"/>
<line x1="332.85" y1="511.0" x2="332.85" y2="518.0" stroke="#1e2284" stroke-width="1.3"/>
<line x1="336.35" y1="511.0" x2="336.35" y2="518.0" stroke="#1e2284" stroke-width="1.3"/>
<polyline points="336.5,514.5 345.5,514.5 345.5,499.5" fill="none" stroke="#4c1a30" stroke-width="1"/>
<circle cx="316.5" cy="499.5" r="1.0" fill="#c06090"/>
<circle cx="345.5" cy="499.5" r="1.0" fill="#c06090"/>
<text x="281" y="497" font-size="5.5" fill="#d0869a" text-anchor="start" font-weight="normal" textLength="23.6" lengthAdjust="spacingAndGlyphs">ADC_VLOW</text>
<text x="323" y="488" font-size="5.5" fill="#a0a0a8" text-anchor="start" font-weight="normal" textLength="8.9" lengthAdjust="spacingAndGlyphs">R62</text>
<text x="338" y="488" font-size="5.5" fill="#a0a0a8" text-anchor="start" font-weight="normal" textLength="8.9" lengthAdjust="spacingAndGlyphs">390</text>
<text x="354" y="497" font-size="5.5" fill="#d0869a" text-anchor="start" font-weight="normal" textLength="11.8" lengthAdjust="spacingAndGlyphs">GNDA</text>
<text x="323" y="525" font-size="5.5" fill="#a0a0a8" text-anchor="start" font-weight="normal" textLength="8.9" lengthAdjust="spacingAndGlyphs">C26</text>
<text x="339" y="525" font-size="5.5" fill="#a0a0a8" text-anchor="start" font-weight="normal" textLength="14.8" lengthAdjust="spacingAndGlyphs">100nF</text>
<line x1="273.5" y1="565.5" x2="294.5" y2="565.5" stroke="#4c1a30" stroke-width="1"/>
<polyline points="294.0,565.5 295.3,562.5 297.9,568.5 300.4,562.5 303.0,568.5 305.5,562.5 308.1,568.5 309.4,565.5" fill="none" stroke="#232360" stroke-width="1.1"/>
<line x1="309.5" y1="565.5" x2="348.5" y2="565.5" stroke="#4c1a30" stroke-width="1"/>
<rect x="347.95" y="564.4" width="3.5" height="3" fill="#fff"/>
<line x1="347.95" y1="562.4" x2="347.95" y2="569.4" stroke="#1e2284" stroke-width="1.3"/>
<line x1="351.45" y1="562.4" x2="351.45" y2="569.4" stroke="#1e2284" stroke-width="1.3"/>
<line x1="352.5" y1="565.5" x2="412.5" y2="565.5" stroke="#4c1a30" stroke-width="1"/>
<circle cx="331.5" cy="565.5" r="1.0" fill="#c06090"/>
<polyline points="331.5,565.5 331.5,601.5 281.5,601.5" fill="none" stroke="#4c1a30" stroke-width="1"/>
<text x="274" y="563.4" font-size="5.5" fill="#d0869a" text-anchor="start" font-weight="normal" textLength="11.8" lengthAdjust="spacingAndGlyphs">VDDA</text>
<text x="297" y="554.4" font-size="5.5" fill="#a0a0a8" text-anchor="start" font-weight="normal" textLength="8.9" lengthAdjust="spacingAndGlyphs">R66</text>
<text x="297" y="573.4" font-size="5.5" fill="#a0a0a8" text-anchor="start" font-weight="normal" textLength="8.9" lengthAdjust="spacingAndGlyphs">47k</text>
<text x="344.7" y="550.4" font-size="5.5" fill="#a0a0a8" text-anchor="start" font-weight="normal" textLength="8.9" lengthAdjust="spacingAndGlyphs">C27</text>
<text x="345.7" y="580.4" font-size="5.5" fill="#a0a0a8" text-anchor="start" font-weight="normal" textLength="14.8" lengthAdjust="spacingAndGlyphs">100nF</text>
<text x="376" y="563.4" font-size="5.5" fill="#d0869a" text-anchor="start" font-weight="normal" textLength="11.8" lengthAdjust="spacingAndGlyphs">GNDA</text>
<text x="282" y="599" font-size="5.5" fill="#d0869a" text-anchor="start" font-weight="normal" textLength="20.7" lengthAdjust="spacingAndGlyphs">AMP_GND</text>
<line x1="416.5" y1="492.5" x2="453.5" y2="492.5" stroke="#4c1a30" stroke-width="1"/>
<polyline points="452.6,492.5 453.7,489.5 456.0,495.5 458.3,489.5 460.6,495.5 462.9,489.5 465.2,495.5 466.3,492.5" fill="none" stroke="#232360" stroke-width="1.1"/>
<line x1="466.5" y1="492.5" x2="504.5" y2="492.5" stroke="#4c1a30" stroke-width="1"/>
<rect x="504.75" y="491" width="3.5" height="3" fill="#fff"/>
<line x1="504.75" y1="489.0" x2="504.75" y2="496.0" stroke="#1e2284" stroke-width="1.3"/>
<line x1="508.25" y1="489.0" x2="508.25" y2="496.0" stroke="#1e2284" stroke-width="1.3"/>
<line x1="508.5" y1="492.5" x2="540.5" y2="492.5" stroke="#4c1a30" stroke-width="1"/>
<circle cx="480.5" cy="492.5" r="1.0" fill="#c06090"/>
<polyline points="480.5,492.5 480.5,528.5 438.5,528.5" fill="none" stroke="#4c1a30" stroke-width="1"/>
<text x="418.5" y="490" font-size="5.5" fill="#d0869a" text-anchor="start" font-weight="normal" textLength="23.6" lengthAdjust="spacingAndGlyphs">ADC_VDDA</text>
<text x="455.6" y="481" font-size="5.5" fill="#a0a0a8" text-anchor="start" font-weight="normal" textLength="8.9" lengthAdjust="spacingAndGlyphs">R43</text>
<text x="455.6" y="500" font-size="5.5" fill="#a0a0a8" text-anchor="start" font-weight="normal" textLength="8.9" lengthAdjust="spacingAndGlyphs">50k</text>
<text x="501.5" y="477" font-size="5.5" fill="#a0a0a8" text-anchor="start" font-weight="normal" textLength="8.9" lengthAdjust="spacingAndGlyphs">C21</text>
<text x="502.5" y="507" font-size="5.5" fill="#a0a0a8" text-anchor="start" font-weight="normal" textLength="14.8" lengthAdjust="spacingAndGlyphs">100nF</text>
<text x="518.4" y="490" font-size="5.5" fill="#d0869a" text-anchor="start" font-weight="normal" textLength="23.6" lengthAdjust="spacingAndGlyphs">ADC_GNDA</text>
<text x="439" y="526.5" font-size="5.5" fill="#d0869a" text-anchor="start" font-weight="normal" textLength="20.7" lengthAdjust="spacingAndGlyphs">ADC_GND</text>
<line x1="430.5" y1="550.5" x2="453.5" y2="550.5" stroke="#4c1a30" stroke-width="1"/>
<polyline points="452.6,550.5 453.7,547.5 456.0,553.5 458.3,547.5 460.6,553.5 462.9,547.5 465.2,553.5 466.3,550.5" fill="none" stroke="#232360" stroke-width="1.1"/>
<line x1="466.5" y1="550.5" x2="512.5" y2="550.5" stroke="#4c1a30" stroke-width="1"/>
<rect x="512.25" y="549" width="3.5" height="3" fill="#fff"/>
<line x1="512.25" y1="547.0" x2="512.25" y2="554.0" stroke="#1e2284" stroke-width="1.3"/>
<line x1="515.75" y1="547.0" x2="515.75" y2="554.0" stroke="#1e2284" stroke-width="1.3"/>
<line x1="516.5" y1="550.5" x2="540.5" y2="550.5" stroke="#4c1a30" stroke-width="1"/>
<circle cx="480.5" cy="550.5" r="1.0" fill="#c06090"/>
<polyline points="480.5,550.5 480.5,587.5 438.5,587.5" fill="none" stroke="#4c1a30" stroke-width="1"/>
<text x="431.5" y="548" font-size="5.5" fill="#d0869a" text-anchor="start" font-weight="normal" textLength="11.8" lengthAdjust="spacingAndGlyphs">VDDA</text>
<text x="455.6" y="539" font-size="5.5" fill="#a0a0a8" text-anchor="start" font-weight="normal" textLength="8.9" lengthAdjust="spacingAndGlyphs">R45</text>
<text x="455.6" y="558" font-size="5.5" fill="#a0a0a8" text-anchor="start" font-weight="normal" textLength="8.9" lengthAdjust="spacingAndGlyphs">50k</text>
<text x="509" y="535" font-size="5.5" fill="#a0a0a8" text-anchor="start" font-weight="normal" textLength="8.9" lengthAdjust="spacingAndGlyphs">C22</text>
<text x="510" y="565" font-size="5.5" fill="#a0a0a8" text-anchor="start" font-weight="normal" textLength="14.8" lengthAdjust="spacingAndGlyphs">100nF</text>
<text x="532.7" y="548" font-size="5.5" fill="#d0869a" text-anchor="start" font-weight="normal" textLength="11.8" lengthAdjust="spacingAndGlyphs">GNDA</text>
<text x="439" y="585" font-size="5.5" fill="#d0869a" text-anchor="start" font-weight="normal" textLength="20.7" lengthAdjust="spacingAndGlyphs">DEC_GND</text>
<rect x="740.5" y="50.5" width="37" height="37" fill="none" stroke="#232360" stroke-width="1"/>
<line x1="674.5" y1="57.5" x2="740.5" y2="57.5" stroke="#4c1a30" stroke-width="1"/>
<line x1="696.5" y1="65.5" x2="740.5" y2="65.5" stroke="#4c1a30" stroke-width="1"/>
<line x1="707.5" y1="72.5" x2="740.5" y2="72.5" stroke="#4c1a30" stroke-width="1"/>
<line x1="707.5" y1="57.5" x2="707.5" y2="72.5" stroke="#4c1a30" stroke-width="1"/>
<polyline points="674.5,57.5 674.5,79.5 696.5,79.5" fill="none" stroke="#4c1a30" stroke-width="1"/>
<rect x="673" y="67.3" width="3" height="3" fill="#fff"/>
<line x1="670.0" y1="67.3" x2="679.0" y2="67.3" stroke="#1e2284" stroke-width="1.3"/>
<line x1="670.0" y1="70.3" x2="679.0" y2="70.3" stroke="#1e2284" stroke-width="1.3"/>
<line x1="696.5" y1="65.5" x2="696.5" y2="90.5" stroke="#4c1a30" stroke-width="1"/>
<polygon points="688.5,90.5 704.5,90.5 696.5,98.5" fill="none" stroke="#4c1a30" stroke-width="1"/>
<circle cx="707.5" cy="57.5" r="1.0" fill="#c06090"/>
<circle cx="696.5" cy="79.5" r="1.0" fill="#c06090"/>
<line x1="777.5" y1="57.5" x2="893.5" y2="57.5" stroke="#4c1a30" stroke-width="1"/>
<line x1="777.5" y1="72.5" x2="801.5" y2="72.5" stroke="#4c1a30" stroke-width="1"/>
<path d="M796.5,70.8 l4.5,4.5 M796.5,75.3 l4.5,-4.5" stroke="#4c1a30" stroke-width="1" fill="none"/>
<line x1="813.5" y1="57.5" x2="813.5" y2="98.5" stroke="#4c1a30" stroke-width="1"/>
<rect x="812" y="66.5" width="3" height="4" fill="#fff"/>
<line x1="806.5" y1="66.5" x2="820.5" y2="66.5" stroke="#1e2284" stroke-width="1.3"/>
<line x1="806.5" y1="70.5" x2="820.5" y2="70.5" stroke="#1e2284" stroke-width="1.3"/>
<polygon points="806.0,98.5 821.0,98.5 813.5,105.5" fill="none" stroke="#4c1a30" stroke-width="1"/>
<text x="744" y="59.8" font-size="6.8" fill="#1c1c58" text-anchor="start" font-weight="normal" textLength="5.7" lengthAdjust="spacingAndGlyphs" stroke="#1c1c58" stroke-width="0.3">In</text>
<text x="774" y="59.8" font-size="6.8" fill="#1c1c58" text-anchor="end" font-weight="normal" textLength="14.0" lengthAdjust="spacingAndGlyphs" stroke="#1c1c58" stroke-width="0.3">OUT</text>
<text x="744" y="68.1" font-size="6.8" fill="#1c1c58" text-anchor="start" font-weight="normal" textLength="14.7" lengthAdjust="spacingAndGlyphs" stroke="#1c1c58" stroke-width="0.3">GND</text>
<text x="744" y="75.1" font-size="6.8" fill="#1c1c58" text-anchor="start" font-weight="normal" textLength="11.4" lengthAdjust="spacingAndGlyphs" stroke="#1c1c58" stroke-width="0.3">/EN</text>
<text x="774" y="75.1" font-size="6.8" fill="#1c1c58" text-anchor="end" font-weight="normal" textLength="9.7" lengthAdjust="spacingAndGlyphs" stroke="#1c1c58" stroke-width="0.3">OR</text>
<text x="732" y="55.5" font-size="7" fill="#101010" text-anchor="start" font-weight="bold">1</text>
<text x="732" y="64.3" font-size="7" fill="#101010" text-anchor="start" font-weight="bold">2</text>
<text x="732" y="71.3" font-size="7" fill="#101010" text-anchor="start" font-weight="bold">3</text>
<text x="782" y="55.5" font-size="7" fill="#101010" text-anchor="start" font-weight="bold">5</text>
<text x="782" y="71.3" font-size="7" fill="#101010" text-anchor="start" font-weight="bold">4</text>
<text x="744" y="44" font-size="5.5" fill="#a0a0a8" text-anchor="start" font-weight="normal" textLength="5.9" lengthAdjust="spacingAndGlyphs">U8</text>
<text x="744" y="93" font-size="5.5" fill="#a0a0a8" text-anchor="start" font-weight="normal" textLength="17.7" lengthAdjust="spacingAndGlyphs">w025-5</text>
<line x1="805.5" y1="25.5" x2="805.5" y2="57.5" stroke="#4c1a30" stroke-width="1"/>
<line x1="805.5" y1="25.5" x2="857.5" y2="25.5" stroke="#4c1a30" stroke-width="1"/>
<line x1="805.5" y1="39.5" x2="857.5" y2="39.5" stroke="#4c1a30" stroke-width="1"/>
<circle cx="805.5" cy="39.5" r="1.0" fill="#c06090"/>
<circle cx="805.5" cy="57.5" r="1.0" fill="#c06090"/>
<circle cx="813.5" cy="57.5" r="1.0" fill="#c06090"/>
<text x="657" y="64" font-size="5.5" fill="#a0a0a8" text-anchor="start" font-weight="normal" textLength="8.9" lengthAdjust="spacingAndGlyphs">C25</text>
<text x="653" y="72" font-size="5.5" fill="#a0a0a8" text-anchor="start" font-weight="normal" textLength="11.8" lengthAdjust="spacingAndGlyphs">100u</text>
<text x="686" y="56.5" font-size="5.5" fill="#d0869a" text-anchor="start" font-weight="normal" textLength="5.9" lengthAdjust="spacingAndGlyphs">3v</text>
<text x="825" y="68" font-size="5.5" fill="#a0a0a8" text-anchor="start" font-weight="normal" textLength="8.9" lengthAdjust="spacingAndGlyphs">C26</text>
<text x="826" y="75" font-size="5.5" fill="#a0a0a8" text-anchor="start" font-weight="normal" textLength="8.9" lengthAdjust="spacingAndGlyphs">10u</text>
<text x="828" y="23" font-size="5.5" fill="#d0869a" text-anchor="start" font-weight="normal" textLength="11.8" lengthAdjust="spacingAndGlyphs">VDDD</text>
<text x="821" y="37" font-size="5.5" fill="#d0869a" text-anchor="start" font-weight="normal" textLength="23.6" lengthAdjust="spacingAndGlyphs">ADC_VDDD</text>
<text x="820" y="8" font-size="5.5" fill="#a0a0a8" text-anchor="start" font-weight="normal" textLength="70.8" lengthAdjust="spacingAndGlyphs">VDDD 3.3V D image sensor</text>
<text x="824" y="51" font-size="5.5" fill="#a0a0a8" text-anchor="start" font-weight="normal" textLength="56.1" lengthAdjust="spacingAndGlyphs">ADC_VDDD 3.3V D ADC</text>
<rect x="740.5" y="274.3" width="36" height="35.5" fill="none" stroke="#232360" stroke-width="1"/>
<line x1="674.5" y1="280.5" x2="740.5" y2="280.5" stroke="#4c1a30" stroke-width="1"/>
<line x1="696.5" y1="287.5" x2="740.5" y2="287.5" stroke="#4c1a30" stroke-width="1"/>
<line x1="707.5" y1="295.5" x2="740.5" y2="295.5" stroke="#4c1a30" stroke-width="1"/>
<line x1="707.5" y1="280.5" x2="707.5" y2="295.5" stroke="#4c1a30" stroke-width="1"/>
<polyline points="674.5,280.5 674.5,302.5 696.5,302.5" fill="none" stroke="#4c1a30" stroke-width="1"/>
<rect x="673" y="289.79999999999995" width="3" height="3" fill="#fff"/>
<line x1="670.0" y1="289.79999999999995" x2="679.0" y2="289.79999999999995" stroke="#1e2284" stroke-width="1.3"/>
<line x1="670.0" y1="292.79999999999995" x2="679.0" y2="292.79999999999995" stroke="#1e2284" stroke-width="1.3"/>
<line x1="696.5" y1="287.5" x2="696.5" y2="313.5" stroke="#4c1a30" stroke-width="1"/>
<polygon points="688.5,313.5 704.5,313.5 696.5,321.5" fill="none" stroke="#4c1a30" stroke-width="1"/>
<circle cx="707.5" cy="280.5" r="1.0" fill="#c06090"/>
<circle cx="696.5" cy="302.5" r="1.0" fill="#c06090"/>
<line x1="776.5" y1="280.5" x2="882.5" y2="280.5" stroke="#4c1a30" stroke-width="1"/>
<line x1="776.5" y1="295.5" x2="800.5" y2="295.5" stroke="#4c1a30" stroke-width="1"/>
<path d="M795.5,293.7 l4.5,4.5 M795.5,298.2 l4.5,-4.5" stroke="#4c1a30" stroke-width="1" fill="none"/>
<line x1="813.5" y1="280.5" x2="813.5" y2="313.5" stroke="#4c1a30" stroke-width="1"/>
<rect x="812" y="289.6" width="3" height="4" fill="#fff"/>
<line x1="806.5" y1="289.6" x2="820.5" y2="289.6" stroke="#1e2284" stroke-width="1.3"/>
<line x1="806.5" y1="293.6" x2="820.5" y2="293.6" stroke="#1e2284" stroke-width="1.3"/>
<polygon points="806.0,313.5 821.0,313.5 813.5,320.5" fill="none" stroke="#4c1a30" stroke-width="1"/>
<text x="744" y="282.6" font-size="6.8" fill="#1c1c58" text-anchor="start" font-weight="normal" textLength="5.7" lengthAdjust="spacingAndGlyphs" stroke="#1c1c58" stroke-width="0.3">In</text>
<text x="773" y="282.6" font-size="6.8" fill="#1c1c58" text-anchor="end" font-weight="normal" textLength="14.0" lengthAdjust="spacingAndGlyphs" stroke="#1c1c58" stroke-width="0.3">OUT</text>
<text x="744" y="290.2" font-size="6.8" fill="#1c1c58" text-anchor="start" font-weight="normal" textLength="14.7" lengthAdjust="spacingAndGlyphs" stroke="#1c1c58" stroke-width="0.3">GND</text>
<text x="744" y="298.0" font-size="6.8" fill="#1c1c58" text-anchor="start" font-weight="normal" textLength="11.4" lengthAdjust="spacingAndGlyphs" stroke="#1c1c58" stroke-width="0.3">/EN</text>
<text x="773" y="298.0" font-size="6.8" fill="#1c1c58" text-anchor="end" font-weight="normal" textLength="9.7" lengthAdjust="spacingAndGlyphs" stroke="#1c1c58" stroke-width="0.3">OR</text>
<text x="732" y="278.3" font-size="7" fill="#101010" text-anchor="start" font-weight="bold">1</text>
<text x="732" y="286.4" font-size="7" fill="#101010" text-anchor="start" font-weight="bold">2</text>
<text x="732" y="294.2" font-size="7" fill="#101010" text-anchor="start" font-weight="bold">3</text>
<text x="781" y="278.3" font-size="7" fill="#101010" text-anchor="start" font-weight="bold">5</text>
<text x="781" y="294.2" font-size="7" fill="#101010" text-anchor="start" font-weight="bold">4</text>
<text x="744" y="267.8" font-size="5.5" fill="#a0a0a8" text-anchor="start" font-weight="normal" textLength="5.9" lengthAdjust="spacingAndGlyphs">U4</text>
<text x="744" y="315.3" font-size="5.5" fill="#a0a0a8" text-anchor="start" font-weight="normal" textLength="17.7" lengthAdjust="spacingAndGlyphs">w025-5</text>
<line x1="813.5" y1="265.5" x2="813.5" y2="280.5" stroke="#4c1a30" stroke-width="1"/>
<line x1="813.5" y1="265.5" x2="866.5" y2="265.5" stroke="#4c1a30" stroke-width="1"/>
<circle cx="813.5" cy="280.5" r="1.0" fill="#c06090"/>
<text x="657" y="290" font-size="5.5" fill="#a0a0a8" text-anchor="start" font-weight="normal" textLength="8.9" lengthAdjust="spacingAndGlyphs">C31</text>
<text x="653" y="297" font-size="5.5" fill="#a0a0a8" text-anchor="start" font-weight="normal" textLength="11.8" lengthAdjust="spacingAndGlyphs">100u</text>
<text x="686" y="278" font-size="5.5" fill="#d0869a" text-anchor="start" font-weight="normal" textLength="5.9" lengthAdjust="spacingAndGlyphs">3v</text>
<text x="829" y="291" font-size="5.5" fill="#a0a0a8" text-anchor="start" font-weight="normal" textLength="8.9" lengthAdjust="spacingAndGlyphs">C29</text>
<text x="830" y="298" font-size="5.5" fill="#a0a0a8" text-anchor="start" font-weight="normal" textLength="8.9" lengthAdjust="spacingAndGlyphs">10u</text>
<text x="820" y="263" font-size="5.5" fill="#d0869a" text-anchor="start" font-weight="normal" textLength="23.6" lengthAdjust="spacingAndGlyphs">ADC_VDDA</text>
<text x="821" y="278" font-size="5.5" fill="#d0869a" text-anchor="start" font-weight="normal" textLength="11.8" lengthAdjust="spacingAndGlyphs">VDDA</text>
<text x="860" y="259" font-size="5.5" fill="#a0a0a8" text-anchor="start" font-weight="normal" textLength="47.2" lengthAdjust="spacingAndGlyphs">ADC_VDDA 3.3 ADC</text>
<text x="843" y="289" font-size="5.5" fill="#a0a0a8" text-anchor="start" font-weight="normal" textLength="60.5" lengthAdjust="spacingAndGlyphs">VDDA 3.3 sensor analog</text>
<rect x="747.5" y="163.5" width="44" height="59.5" fill="none" stroke="#232360" stroke-width="1"/>
<text x="751" y="180.9" font-size="6.8" fill="#1c1c58" text-anchor="start" font-weight="normal" textLength="8.3" lengthAdjust="spacingAndGlyphs" stroke="#1c1c58" stroke-width="0.3">FB</text>
<text x="787" y="180.9" font-size="6.8" fill="#1c1c58" text-anchor="end" font-weight="normal" textLength="14.0" lengthAdjust="spacingAndGlyphs" stroke="#1c1c58" stroke-width="0.3">OUT</text>
<text x="742" y="176.9" font-size="7" fill="#101010" text-anchor="end" font-weight="bold">1</text>
<text x="794" y="176.9" font-size="7" fill="#101010" text-anchor="start" font-weight="bold">8</text>
<text x="751" y="187.9" font-size="6.8" fill="#1c1c58" text-anchor="start" font-weight="normal" textLength="9.3" lengthAdjust="spacingAndGlyphs" stroke="#1c1c58" stroke-width="0.3">PG</text>
<text x="787" y="187.9" font-size="6.8" fill="#1c1c58" text-anchor="end" font-weight="normal" textLength="14.0" lengthAdjust="spacingAndGlyphs" stroke="#1c1c58" stroke-width="0.3">OUT</text>
<text x="742" y="183.9" font-size="7" fill="#101010" text-anchor="end" font-weight="bold">2</text>
<text x="794" y="183.9" font-size="7" fill="#101010" text-anchor="start" font-weight="bold">7</text>
<text x="751" y="195.10000000000002" font-size="6.8" fill="#1c1c58" text-anchor="start" font-weight="normal" textLength="14.7" lengthAdjust="spacingAndGlyphs" stroke="#1c1c58" stroke-width="0.3">GND</text>
<text x="787" y="195.10000000000002" font-size="6.8" fill="#1c1c58" text-anchor="end" font-weight="normal" textLength="6.7" lengthAdjust="spacingAndGlyphs" stroke="#1c1c58" stroke-width="0.3">IN</text>
<text x="742" y="191.10000000000002" font-size="7" fill="#101010" text-anchor="end" font-weight="bold">3</text>
<text x="794" y="191.10000000000002" font-size="7" fill="#101010" text-anchor="start" font-weight="bold">6</text>
<text x="751" y="202.60000000000002" font-size="6.8" fill="#1c1c58" text-anchor="start" font-weight="normal" textLength="11.4" lengthAdjust="spacingAndGlyphs" stroke="#1c1c58" stroke-width="0.3">/EN</text>
<text x="787" y="202.60000000000002" font-size="6.8" fill="#1c1c58" text-anchor="end" font-weight="normal" textLength="6.7" lengthAdjust="spacingAndGlyphs" stroke="#1c1c58" stroke-width="0.3">IN</text>
<text x="742" y="198.60000000000002" font-size="7" fill="#101010" text-anchor="end" font-weight="bold">4</text>
<text x="794" y="198.60000000000002" font-size="7" fill="#101010" text-anchor="start" font-weight="bold">5</text>
<text x="749" y="168" font-size="4.5" fill="#a0a0a8" text-anchor="start" font-weight="normal" textLength="5.9" lengthAdjust="spacingAndGlyphs">U?</text>
<polyline points="747.5,185.5 718.5,185.5 718.5,127.5 813.5,127.5 813.5,185.5 791.5,185.5" fill="none" stroke="#4c1a30" stroke-width="1"/>
<rect x="754.6" y="124.5" width="21.799999999999955" height="6" fill="#fff"/>
<polyline points="754.6,127.5 756.8,125.3 761.1,129.7 765.5,125.3 769.9,129.7 774.2,125.3 776.4,127.5" fill="none" stroke="#202040" stroke-width="1.1"/>
<line x1="813.5" y1="141.5" x2="849.5" y2="141.5" stroke="#4c1a30" stroke-width="1"/>
<circle cx="813.5" cy="141.5" r="1.0" fill="#c06090"/>
<line x1="659.5" y1="156.5" x2="918.5" y2="156.5" stroke="#4c1a30" stroke-width="1"/>
<rect x="667" y="153.5" width="21" height="6" fill="#fff"/>
<polyline points="667.0,156.5 669.1,154.3 673.3,158.7 677.5,154.3 681.7,158.7 685.9,154.3 688.0,156.5" fill="none" stroke="#202040" stroke-width="1.1"/>
<rect x="754.6" y="153.5" width="21.799999999999955" height="6" fill="#fff"/>
<polyline points="754.6,156.5 756.8,154.3 761.1,158.7 765.5,154.3 769.9,158.7 774.2,154.3 776.4,156.5" fill="none" stroke="#202040" stroke-width="1.1"/>
<circle cx="725.5" cy="156.5" r="1.0" fill="#c06090"/>
<circle cx="813.5" cy="156.5" r="1.0" fill="#c06090"/>
<polyline points="725.5,156.5 725.5,178.5 747.5,178.5" fill="none" stroke="#4c1a30" stroke-width="1"/>
<line x1="659.5" y1="156.5" x2="659.5" y2="207.5" stroke="#4c1a30" stroke-width="1"/>
<polygon points="652.0,207.5 667.0,207.5 659.5,214.5" fill="none" stroke="#4c1a30" stroke-width="1"/>
<line x1="659.5" y1="192.5" x2="747.5" y2="192.5" stroke="#4c1a30" stroke-width="1"/>
<circle cx="659.5" cy="192.5" r="1.0" fill="#c06090"/>
<line x1="718.5" y1="200.5" x2="744.5" y2="200.5" stroke="#4c1a30" stroke-width="1"/>
<circle cx="745.5" cy="200.5" r="1.5" fill="#fff" stroke="#4c1a30" stroke-width="0.8"/>
<polyline points="718.5,192.5 718.5,236.5 878.5,236.5" fill="none" stroke="#4c1a30" stroke-width="1"/>
<circle cx="718.5" cy="192.5" r="1.0" fill="#c06090"/>
<circle cx="718.5" cy="200.5" r="1.0" fill="#c06090"/>
<line x1="791.5" y1="178.5" x2="878.5" y2="178.5" stroke="#4c1a30" stroke-width="1"/>
<circle cx="813.5" cy="178.5" r="1.0" fill="#c06090"/>
<line x1="878.5" y1="178.5" x2="878.5" y2="185.5" stroke="#4c1a30" stroke-width="1"/>
<line x1="878.5" y1="189.5" x2="878.5" y2="207.5" stroke="#4c1a30" stroke-width="1"/>
<rect x="875.5" y="207.6" width="6" height="21.400000000000006" fill="#fff"/>
<polyline points="878.5,207.6 880.7,209.7 876.3,214.0 880.7,218.3 876.3,222.6 880.7,226.9 878.5,229.0" fill="none" stroke="#202040" stroke-width="1.1"/>
<line x1="878.5" y1="230.5" x2="878.5" y2="236.5" stroke="#4c1a30" stroke-width="1"/>
<line x1="870" y1="185.5" x2="886" y2="185.5" stroke="#232360" stroke-width="1.3"/>
<path d="M870,191 Q878,186 886,191" stroke="#232360" stroke-width="1.3" fill="none"/>
<line x1="791.5" y1="192.5" x2="861.5" y2="192.5" stroke="#4c1a30" stroke-width="1"/>
<line x1="791.5" y1="200.5" x2="827.5" y2="200.5" stroke="#4c1a30" stroke-width="1"/>
<line x1="827.5" y1="192.5" x2="827.5" y2="236.5" stroke="#4c1a30" stroke-width="1"/>
<circle cx="827.5" cy="192.5" r="1.0" fill="#c06090"/>
<circle cx="827.5" cy="200.5" r="1.0" fill="#c06090"/>
<circle cx="827.5" cy="236.5" r="1.0" fill="#c06090"/>
<rect x="826" y="215.05" width="3" height="3.5" fill="#fff"/>
<line x1="820.5" y1="215.05" x2="834.5" y2="215.05" stroke="#1e2284" stroke-width="1.3"/>
<line x1="820.5" y1="218.55" x2="834.5" y2="218.55" stroke="#1e2284" stroke-width="1.3"/>
<text x="660" y="150" font-size="4.5" fill="#a0a0a8" text-anchor="start" font-weight="normal" textLength="8.9" lengthAdjust="spacingAndGlyphs">R46</text>
<text x="670" y="162" font-size="4.5" fill="#a0a0a8" text-anchor="start" font-weight="normal" textLength="8.9" lengthAdjust="spacingAndGlyphs">10k</text>
<text x="747" y="123" font-size="4.5" fill="#a0a0a8" text-anchor="start" font-weight="normal" textLength="8.9" lengthAdjust="spacingAndGlyphs">R44</text>
<text x="761" y="131" font-size="4.5" fill="#a0a0a8" text-anchor="start" font-weight="normal" textLength="11.8" lengthAdjust="spacingAndGlyphs">100k</text>
<text x="747" y="152" font-size="4.5" fill="#a0a0a8" text-anchor="start" font-weight="normal" textLength="8.9" lengthAdjust="spacingAndGlyphs">R41</text>
<text x="760" y="160" font-size="4.5" fill="#a0a0a8" text-anchor="start" font-weight="normal" textLength="11.8" lengthAdjust="spacingAndGlyphs">100k</text>
<text x="776" y="160" font-size="4.5" fill="#a0a0a8" text-anchor="start" font-weight="normal" textLength="11.8" lengthAdjust="spacingAndGlyphs">57k6</text>
<text x="829" y="139" font-size="5.5" fill="#d0869a" text-anchor="start" font-weight="normal" textLength="11.8" lengthAdjust="spacingAndGlyphs">VDDH</text>
<text x="857" y="139" font-size="5.5" fill="#a0a0a8" text-anchor="start" font-weight="normal" textLength="32.5" lengthAdjust="spacingAndGlyphs">VDDH 4.2V A</text>
<text x="822" y="154" font-size="5.5" fill="#d0869a" text-anchor="start" font-weight="normal" textLength="26.6" lengthAdjust="spacingAndGlyphs">VDDR_LEFT</text>
<text x="864" y="154" font-size="5.5" fill="#a0a0a8" text-anchor="start" font-weight="normal" textLength="47.2" lengthAdjust="spacingAndGlyphs">VDDR_LEFT 4.2V A</text>
<text x="839" y="190" font-size="5.5" fill="#d0869a" text-anchor="start" font-weight="normal" textLength="5.9" lengthAdjust="spacingAndGlyphs">3v</text>
<text x="892" y="189" font-size="5.5" fill="#a0a0a8" text-anchor="start" font-weight="normal" textLength="8.9" lengthAdjust="spacingAndGlyphs">C28</text>
<text x="892" y="197" font-size="5.5" fill="#a0a0a8" text-anchor="start" font-weight="normal" textLength="20.7" lengthAdjust="spacingAndGlyphs">10u/tan</text>
<text x="886" y="212" font-size="5.5" fill="#a0a0a8" text-anchor="start" font-weight="normal" textLength="8.9" lengthAdjust="spacingAndGlyphs">R49</text>
<text x="887" y="219" font-size="5.5" fill="#a0a0a8" text-anchor="start" font-weight="normal" textLength="3.0" lengthAdjust="spacingAndGlyphs">1</text>
<text x="841" y="215" font-size="5.5" fill="#a0a0a8" text-anchor="start" font-weight="normal" textLength="8.9" lengthAdjust="spacingAndGlyphs">C30</text>
<text x="841" y="223" font-size="5.5" fill="#a0a0a8" text-anchor="start" font-weight="normal" textLength="11.8" lengthAdjust="spacingAndGlyphs">0.1u</text>
<text x="721" y="233" font-size="5.5" fill="#a0a0a8" text-anchor="start" font-weight="normal" textLength="48.0" lengthAdjust="spacingAndGlyphs">LDO-xxx-tps72xx-8pin</text>
<rect x="743.5" y="379.5" width="45" height="58.5" fill="none" stroke="#232360" stroke-width="1"/>
<text x="747" y="396.0" font-size="6.8" fill="#1c1c58" text-anchor="start" font-weight="normal" textLength="8.3" lengthAdjust="spacingAndGlyphs" stroke="#1c1c58" stroke-width="0.3">FB</text>
<text x="784" y="396.0" font-size="6.8" fill="#1c1c58" text-anchor="end" font-weight="normal" textLength="14.0" lengthAdjust="spacingAndGlyphs" stroke="#1c1c58" stroke-width="0.3">OUT</text>
<text x="738" y="392.0" font-size="7" fill="#101010" text-anchor="end" font-weight="bold">1</text>
<text x="791" y="392.0" font-size="7" fill="#101010" text-anchor="start" font-weight="bold">8</text>
<text x="747" y="403.2" font-size="6.8" fill="#1c1c58" text-anchor="start" font-weight="normal" textLength="9.3" lengthAdjust="spacingAndGlyphs" stroke="#1c1c58" stroke-width="0.3">PG</text>
<text x="784" y="403.2" font-size="6.8" fill="#1c1c58" text-anchor="end" font-weight="normal" textLength="14.0" lengthAdjust="spacingAndGlyphs" stroke="#1c1c58" stroke-width="0.3">OUT</text>
<text x="738" y="399.2" font-size="7" fill="#101010" text-anchor="end" font-weight="bold">2</text>
<text x="791" y="399.2" font-size="7" fill="#101010" text-anchor="start" font-weight="bold">7</text>
<text x="747" y="411.0" font-size="6.8" fill="#1c1c58" text-anchor="start" font-weight="normal" textLength="14.7" lengthAdjust="spacingAndGlyphs" stroke="#1c1c58" stroke-width="0.3">GND</text>
<text x="784" y="411.0" font-size="6.8" fill="#1c1c58" text-anchor="end" font-weight="normal" textLength="6.7" lengthAdjust="spacingAndGlyphs" stroke="#1c1c58" stroke-width="0.3">IN</text>
<text x="738" y="407.0" font-size="7" fill="#101010" text-anchor="end" font-weight="bold">3</text>
<text x="791" y="407.0" font-size="7" fill="#101010" text-anchor="start" font-weight="bold">6</text>
<text x="747" y="417.8" font-size="6.8" fill="#1c1c58" text-anchor="start" font-weight="normal" textLength="11.4" lengthAdjust="spacingAndGlyphs" stroke="#1c1c58" stroke-width="0.3">/EN</text>
<text x="784" y="417.8" font-size="6.8" fill="#1c1c58" text-anchor="end" font-weight="normal" textLength="6.7" lengthAdjust="spacingAndGlyphs" stroke="#1c1c58" stroke-width="0.3">IN</text>
<text x="738" y="413.8" font-size="7" fill="#101010" text-anchor="end" font-weight="bold">4</text>
<text x="791" y="413.8" font-size="7" fill="#101010" text-anchor="start" font-weight="bold">5</text>
<text x="745" y="384" font-size="4.5" fill="#a0a0a8" text-anchor="start" font-weight="normal" textLength="5.9" lengthAdjust="spacingAndGlyphs">U?</text>
<polyline points="743.5,400.5 699.5,400.5 699.5,357.5 820.5,357.5 820.5,400.5 788.5,400.5" fill="none" stroke="#4c1a30" stroke-width="1"/>
<polyline points="688.5,422.5 688.5,368.5 820.5,368.5" fill="none" stroke="#4c1a30" stroke-width="1"/>
<rect x="754.9" y="354.5" width="21.600000000000023" height="6" fill="#fff"/>
<polyline points="754.9,357.5 757.1,355.3 761.4,359.7 765.7,355.3 770.0,359.7 774.3,355.3 776.5,357.5" fill="none" stroke="#202040" stroke-width="1.1"/>
<rect x="754.9" y="365.5" width="21.600000000000023" height="6" fill="#fff"/>
<polyline points="754.9,368.5 757.1,366.3 761.4,370.7 765.7,366.3 770.0,370.7 774.3,366.3 776.5,368.5" fill="none" stroke="#202040" stroke-width="1.1"/>
<rect x="685.5" y="379.5" width="6" height="20.100000000000023" fill="#fff"/>
<polyline points="688.5,379.5 690.7,381.5 686.3,385.5 690.7,389.6 686.3,393.6 690.7,397.6 688.5,399.6" fill="none" stroke="#202040" stroke-width="1.1"/>
<polygon points="681.0,422.5 696.0,422.5 688.5,429.5" fill="none" stroke="#4c1a30" stroke-width="1"/>
<polyline points="721.5,368.5 721.5,393.5 743.5,393.5" fill="none" stroke="#4c1a30" stroke-width="1"/>
<circle cx="721.5" cy="368.5" r="1.0" fill="#c06090"/>
<line x1="688.5" y1="408.5" x2="743.5" y2="408.5" stroke="#4c1a30" stroke-width="1"/>
<circle cx="688.5" cy="408.5" r="1.0" fill="#c06090"/>
<line x1="721.5" y1="415.5" x2="740.5" y2="415.5" stroke="#4c1a30" stroke-width="1"/>
<circle cx="741.5" cy="415.5" r="1.5" fill="#fff" stroke="#4c1a30" stroke-width="0.8"/>
<polyline points="721.5,408.5 721.5,470.5 856.5,470.5" fill="none" stroke="#4c1a30" stroke-width="1"/>
<circle cx="721.5" cy="408.5" r="1.0" fill="#c06090"/>
<circle cx="721.5" cy="415.5" r="1.0" fill="#c06090"/>
<line x1="788.5" y1="393.5" x2="856.5" y2="393.5" stroke="#4c1a30" stroke-width="1"/>
<circle cx="820.5" cy="393.5" r="1.0" fill="#c06090"/>
<circle cx="820.5" cy="368.5" r="1.0" fill="#c06090"/>
<line x1="856.5" y1="393.5" x2="856.5" y2="419.5" stroke="#4c1a30" stroke-width="1"/>
<line x1="856.5" y1="423.5" x2="856.5" y2="440.5" stroke="#4c1a30" stroke-width="1"/>
<rect x="853.5" y="441.6" width="6" height="21.69999999999999" fill="#fff"/>
<polyline points="856.5,441.6 858.7,443.8 854.3,448.1 858.7,452.5 854.3,456.8 858.7,461.1 856.5,463.3" fill="none" stroke="#202040" stroke-width="1.1"/>
<line x1="856.5" y1="463.5" x2="856.5" y2="470.5" stroke="#4c1a30" stroke-width="1"/>
<line x1="848" y1="419.5" x2="864" y2="419.5" stroke="#232360" stroke-width="1.3"/>
<path d="M848,425 Q856,420 864,425" stroke="#232360" stroke-width="1.3" fill="none"/>
<line x1="788.5" y1="408.5" x2="843.5" y2="408.5" stroke="#4c1a30" stroke-width="1"/>
<line x1="788.5" y1="415.5" x2="809.5" y2="415.5" stroke="#4c1a30" stroke-width="1"/>
<line x1="809.5" y1="408.5" x2="809.5" y2="470.5" stroke="#4c1a30" stroke-width="1"/>
<circle cx="809.5" cy="408.5" r="1.0" fill="#c06090"/>
<circle cx="809.5" cy="415.5" r="1.0" fill="#c06090"/>
<circle cx="809.5" cy="470.5" r="1.0" fill="#c06090"/>
<rect x="808" y="430.55" width="3" height="3.5" fill="#fff"/>
<line x1="802.5" y1="430.55" x2="816.5" y2="430.55" stroke="#1e2284" stroke-width="1.3"/>
<line x1="802.5" y1="434.05" x2="816.5" y2="434.05" stroke="#1e2284" stroke-width="1.3"/>
<text x="747" y="353" font-size="4.5" fill="#a0a0a8" text-anchor="start" font-weight="normal" textLength="8.9" lengthAdjust="spacingAndGlyphs">R62</text>
<text x="761" y="350" font-size="4.5" fill="#a0a0a8" text-anchor="start" font-weight="normal" textLength="11.8" lengthAdjust="spacingAndGlyphs">250k</text>
<text x="742" y="364" font-size="4.5" fill="#a0a0a8" text-anchor="start" font-weight="normal" textLength="8.9" lengthAdjust="spacingAndGlyphs">R64</text>
<text x="670" y="383" font-size="4.5" fill="#a0a0a8" text-anchor="start" font-weight="normal" textLength="8.9" lengthAdjust="spacingAndGlyphs">R63</text>
<text x="670" y="391" font-size="4.5" fill="#a0a0a8" text-anchor="start" font-weight="normal" textLength="11.8" lengthAdjust="spacingAndGlyphs">100k</text>
<text x="810" y="384" font-size="5.5" fill="#a0a0a8" text-anchor="start" font-weight="normal" textLength="59.0" lengthAdjust="spacingAndGlyphs">VDD 1.5V A pixel_vdd</text>
<text x="826" y="391" font-size="5.5" fill="#d0869a" text-anchor="start" font-weight="normal" textLength="11.8" lengthAdjust="spacingAndGlyphs">VDDC</text>
<text x="822" y="407" font-size="5.5" fill="#d0869a" text-anchor="start" font-weight="normal" textLength="5.9" lengthAdjust="spacingAndGlyphs">3v</text>
<text x="815" y="428" font-size="5.5" fill="#a0a0a8" text-anchor="start" font-weight="normal" textLength="8.9" lengthAdjust="spacingAndGlyphs">C33</text>
<text x="818" y="437" font-size="5.5" fill="#a0a0a8" text-anchor="start" font-weight="normal" textLength="11.8" lengthAdjust="spacingAndGlyphs">0.1u</text>
<text x="871" y="422" font-size="5.5" fill="#a0a0a8" text-anchor="start" font-weight="normal" textLength="8.9" lengthAdjust="spacingAndGlyphs">C34</text>
<text x="870" y="430" font-size="5.5" fill="#a0a0a8" text-anchor="start" font-weight="normal" textLength="20.7" lengthAdjust="spacingAndGlyphs">10u/tan</text>
<text x="866" y="445" font-size="5.5" fill="#a0a0a8" text-anchor="start" font-weight="normal" textLength="8.9" lengthAdjust="spacingAndGlyphs">R65</text>
<text x="867" y="452" font-size="5.5" fill="#a0a0a8" text-anchor="start" font-weight="normal" textLength="3.0" lengthAdjust="spacingAndGlyphs">1</text>
<text x="729" y="446" font-size="5.5" fill="#a0a0a8" text-anchor="start" font-weight="normal" textLength="50.0" lengthAdjust="spacingAndGlyphs">LDO-xxx-tps72xx-8pin</text>
</svg></body></html>
